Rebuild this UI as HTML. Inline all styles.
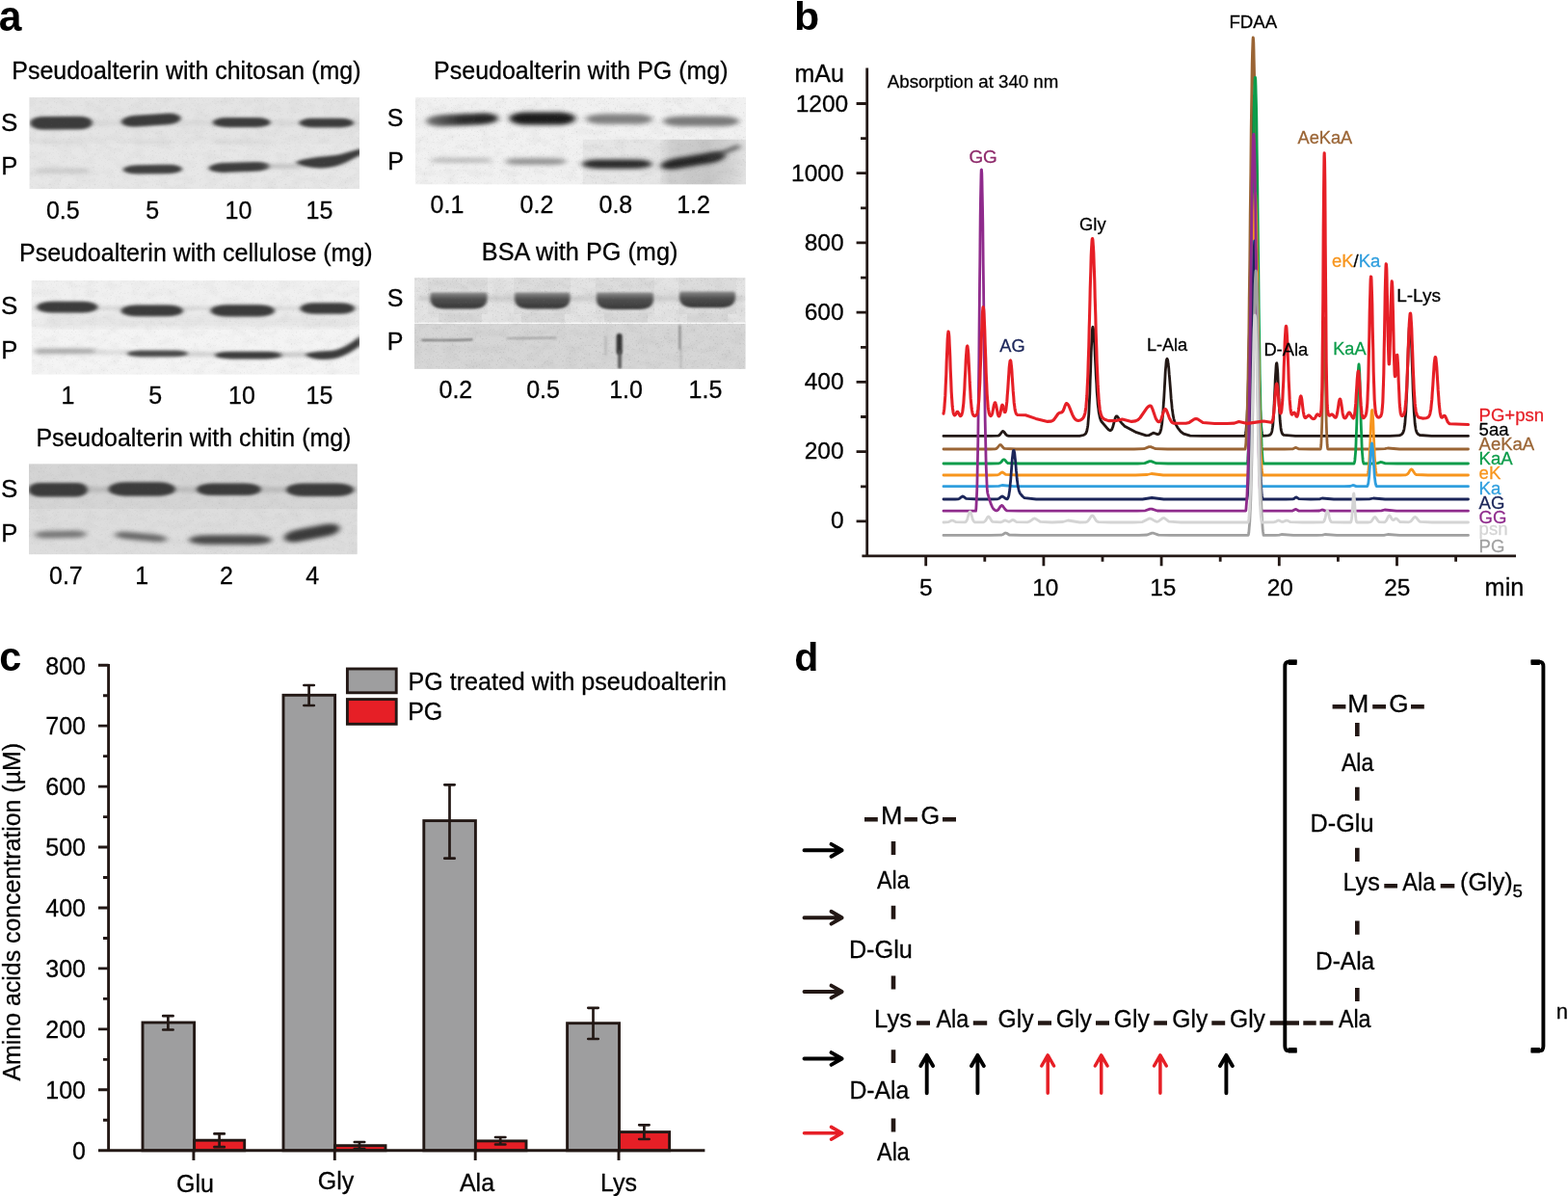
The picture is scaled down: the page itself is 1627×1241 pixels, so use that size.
<!DOCTYPE html>
<html lang="en">
<head>
<meta charset="utf-8">
<title>Figure</title>
<style>
html,body{margin:0;padding:0;background:#fff;}
body{width:1627px;height:1241px;overflow:hidden;}
svg{display:block;font-family:"Liberation Sans",Arial,Helvetica,sans-serif;}
text{stroke-width:0.28px;}
</style>
</head>
<body>
<svg width="1627" height="1241" viewBox="0 0 1627 1241">
<rect width="1627" height="1241" fill="#fff"/>
<defs>
<filter id="b1" filterUnits="userSpaceOnUse" x="0" y="60" width="800" height="560"><feGaussianBlur stdDeviation="2.1 1.5"/></filter>
<filter id="b2" filterUnits="userSpaceOnUse" x="0" y="60" width="800" height="560"><feGaussianBlur stdDeviation="3 1.9"/></filter>
<filter id="b5" filterUnits="userSpaceOnUse" x="0" y="60" width="800" height="560"><feGaussianBlur stdDeviation="1.4 1.1"/></filter>
<filter id="b3" filterUnits="userSpaceOnUse" x="0" y="60" width="800" height="560"><feGaussianBlur stdDeviation="0.9"/></filter>
<filter id="b4" x="-20%" y="-20%" width="140%" height="140%"><feGaussianBlur stdDeviation="6 4"/></filter>
<filter id="nz" x="0" y="0" width="100%" height="100%"><feTurbulence type="fractalNoise" baseFrequency="0.55" numOctaves="2" seed="7" result="n"/><feColorMatrix in="n" type="matrix" values="0 0 0 0 0.2  0 0 0 0 0.2  0 0 0 0 0.2  1.6 0 0 0 -0.95"/></filter>
<filter id="nz2" x="0" y="0" width="100%" height="100%"><feTurbulence type="fractalNoise" baseFrequency="0.08 0.12" numOctaves="2" seed="11" result="n"/><feColorMatrix in="n" type="matrix" values="0 0 0 0 0.35  0 0 0 0 0.35  0 0 0 0 0.35  0.9 0 0 0 -0.38"/></filter>
<linearGradient id="bsa" x1="0" y1="0" x2="0" y2="1"><stop offset="0" stop-color="#8c8c8c"/><stop offset="0.4" stop-color="#505050"/><stop offset="1" stop-color="#363636"/></linearGradient>
<linearGradient id="pg4" x1="0" y1="0" x2="1" y2="0"><stop offset="0" stop-color="#e2e2e2"/><stop offset="0.12" stop-color="#d0d0d0"/><stop offset="0.55" stop-color="#c6c6c6"/><stop offset="0.85" stop-color="#d6d6d6"/><stop offset="1" stop-color="#e4e4e4"/></linearGradient>
<linearGradient id="sfade" x1="0" y1="0" x2="1" y2="0"><stop offset="0" stop-color="#777"/><stop offset="0.5" stop-color="#2a2a2a"/><stop offset="1" stop-color="#262626"/></linearGradient>
</defs>
<text x="-1.2" y="31.6" font-size="44.6" font-weight="bold" style="stroke-width:0" textLength="23.7" lengthAdjust="spacingAndGlyphs" stroke="#000">a</text>
<text x="12.3" y="82.0" font-size="25" textLength="362.2" lengthAdjust="spacingAndGlyphs" stroke="#000">Pseudoalterin with chitosan (mg)</text>
<g id="g1">
<clipPath id="cg1"><rect x="30.6" y="101" width="342.4" height="95"/></clipPath>
<rect x="30.6" y="101" width="342.4" height="95" fill="#e7e7e7"/>
<g clip-path="url(#cg1)">
<rect x="30" y="101" width="344" height="48.30000000000001" fill="#e4e4e4"/>
<rect x="30.6" y="101" width="342.4" height="95" filter="url(#nz2)" opacity="0.22"/>
<path d="M30,127.6 H372" fill="none" stroke="#c4c4c4" stroke-width="3" stroke-linecap="round" stroke-linejoin="round" opacity="0.6" filter="url(#b2)"/>
<g filter="url(#b1)" opacity="1"><rect x="31.2" y="120.80" width="64.6" height="13.6" rx="12.9" ry="6.8" fill="#3b3b3b" transform="rotate(-0.35 63.5 127.6)"/></g>
<g filter="url(#b1)" opacity="1"><rect x="125.8" y="118.75" width="62.0" height="11.6" rx="14.9" ry="5.8" fill="#3b3b3b" transform="rotate(-3.78 156.8 124.5)"/></g>
<g filter="url(#b1)" opacity="1"><rect x="220.8" y="121.90" width="59.8" height="10.2" rx="14.4" ry="5.1" fill="#3b3b3b"/></g>
<g filter="url(#b1)" opacity="1"><rect x="310.5" y="122.80" width="56.5" height="9.4" rx="13.6" ry="4.7" fill="#3b3b3b"/></g>
<path d="M40,177.3 H90" fill="none" stroke="#c4c4c4" stroke-width="5" stroke-linecap="round" stroke-linejoin="round" opacity="0.9" filter="url(#b2)"/>
<g filter="url(#b1)" opacity="1"><rect x="127.8" y="171.00" width="61.2" height="9.4" rx="14.7" ry="4.7" fill="#404040" transform="rotate(-0.56 158.4 175.7)"/></g>
<g filter="url(#b1)" opacity="1"><rect x="216.5" y="168.55" width="63.3" height="9.8" rx="15.2" ry="4.9" fill="#3e3e3e" transform="rotate(-1.90 248.2 173.4)"/></g>
<path d="M276,172.5 H312" fill="none" stroke="#999" stroke-width="3" stroke-linecap="round" stroke-linejoin="round" opacity="0.7" filter="url(#b2)"/>
<path d="M306.5,168.6 C315,163 340,162.4 352,160.4 L375,154 L375,160.4 C366,164.4 358,169.6 350,172 C338,175.8 318,175.6 306.5,168.6 Z" fill="#3b3b3b" opacity="1" filter="url(#b1)"/>
<path d="M42,147.5 H88 M140,147.5 H178 M225,147.5 H280" fill="none" stroke="#d2d2d2" stroke-width="3" stroke-linecap="round" stroke-linejoin="round" opacity="0.8" filter="url(#b2)"/>
<rect x="30.6" y="101" width="342.4" height="95" filter="url(#nz)" opacity="0.25"/>
</g></g>
<text x="0.9" y="135.5" font-size="26" stroke="#000">S</text>
<text x="1.2" y="180.5" font-size="25.6" stroke="#000">P</text>
<text x="65.3" y="227.4" font-size="25" text-anchor="middle" stroke="#000">0.5</text>
<text x="158.3" y="227.4" font-size="25" text-anchor="middle" stroke="#000">5</text>
<text x="247.5" y="227.4" font-size="25" text-anchor="middle" stroke="#000">10</text>
<text x="331.5" y="227.4" font-size="25" text-anchor="middle" stroke="#000">15</text>
<text x="20.0" y="271.4" font-size="25" textLength="366.6" lengthAdjust="spacingAndGlyphs" stroke="#000">Pseudoalterin with cellulose (mg)</text>
<g id="g2">
<clipPath id="cg2"><rect x="32.8" y="291" width="340.2" height="97.60000000000002"/></clipPath>
<rect x="32.8" y="291" width="340.2" height="97.60000000000002" fill="#f4f4f4"/>
<g clip-path="url(#cg2)">
<rect x="32" y="291" width="342" height="47.80000000000001" fill="#f0f0f0"/>
<rect x="44" y="327" width="326" height="11.800000000000011" fill="#e2e2e2" filter="url(#b4)" opacity="0.9"/>
<rect x="32.8" y="291" width="340.2" height="97.60000000000002" filter="url(#nz2)" opacity="0.22"/>
<path d="M36,320 H372" fill="none" stroke="#bbb" stroke-width="3.5" stroke-linecap="round" stroke-linejoin="round" opacity="0.6" filter="url(#b2)"/>
<g filter="url(#b1)" opacity="1"><rect x="38.0" y="312.80" width="63.5" height="11.6" rx="15.2" ry="5.8" fill="#3b3b3b"/></g>
<g filter="url(#b1)" opacity="1"><rect x="125.6" y="316.60" width="64.4" height="11.6" rx="15.5" ry="5.8" fill="#3b3b3b"/></g>
<g filter="url(#b1)" opacity="1"><rect x="218.5" y="316.30" width="66.5" height="12.2" rx="16.0" ry="6.1" fill="#3b3b3b"/></g>
<g filter="url(#b1)" opacity="1"><rect x="311.5" y="314.30" width="56.5" height="11.4" rx="13.6" ry="5.7" fill="#3b3b3b"/></g>
<path d="M38,364.4 H97" fill="none" stroke="#8a8a8a" stroke-width="4.2" stroke-linecap="round" stroke-linejoin="round" opacity="0.9" filter="url(#b2)"/>
<path d="M100,365.5 H135" fill="none" stroke="#bbb" stroke-width="2.5" stroke-linecap="round" stroke-linejoin="round" opacity="0.8" filter="url(#b2)"/>
<g filter="url(#b1)" opacity="1"><rect x="132.0" y="363.50" width="63.5" height="6.8" rx="15.2" ry="3.4" fill="#4a4a4a"/></g>
<path d="M194,367.5 H225" fill="none" stroke="#aaa" stroke-width="3" stroke-linecap="round" stroke-linejoin="round" opacity="0.8" filter="url(#b2)"/>
<g filter="url(#b1)" opacity="1"><rect x="223.0" y="364.70" width="70.0" height="7.8" rx="16.8" ry="3.9" fill="#3a3a3a"/></g>
<path d="M290,368 H318" fill="none" stroke="#999" stroke-width="3" stroke-linecap="round" stroke-linejoin="round" opacity="0.8" filter="url(#b2)"/>
<path d="M316.5,368 C320,364.6 335,364.8 345,363.8 C355,362.3 365,355.8 374.5,348 L374.5,358 C366,364.5 356,370.8 346,372.3 C336,373.8 322,373.2 316.5,368 Z" fill="#3b3b3b" opacity="1" filter="url(#b1)"/>
<rect x="32.8" y="291" width="340.2" height="97.60000000000002" filter="url(#nz)" opacity="0.25"/>
</g></g>
<text x="0.9" y="326.4" font-size="26" stroke="#000">S</text>
<text x="1.2" y="371.5" font-size="25.6" stroke="#000">P</text>
<text x="70.5" y="419.4" font-size="25" text-anchor="middle" stroke="#000">1</text>
<text x="161.2" y="419.4" font-size="25" text-anchor="middle" stroke="#000">5</text>
<text x="251.0" y="419.4" font-size="25" text-anchor="middle" stroke="#000">10</text>
<text x="331.5" y="419.4" font-size="25" text-anchor="middle" stroke="#000">15</text>
<text x="37.4" y="462.6" font-size="25" textLength="327.0" lengthAdjust="spacingAndGlyphs" stroke="#000">Pseudoalterin with chitin (mg)</text>
<g id="g3">
<clipPath id="cg3"><rect x="30" y="481.6" width="340.7" height="93.60000000000002"/></clipPath>
<rect x="30" y="481.6" width="340.7" height="93.60000000000002" fill="#dddddd"/>
<g clip-path="url(#cg3)">
<rect x="30" y="481" width="341" height="47.10000000000002" fill="#d5d5d5"/>
<rect x="30" y="481.6" width="340.7" height="93.60000000000002" filter="url(#nz2)" opacity="0.22"/>
<path d="M30,508 H370" fill="none" stroke="#999" stroke-width="4" stroke-linecap="round" stroke-linejoin="round" opacity="0.6" filter="url(#b2)"/>
<g filter="url(#b1)" opacity="1"><rect x="29.5" y="501.00" width="61.5" height="14.4" rx="11.1" ry="7.2" fill="#3a3a3a"/></g>
<g filter="url(#b1)" opacity="1"><rect x="112.5" y="500.30" width="69.5" height="14.4" rx="16.7" ry="7.2" fill="#3a3a3a"/></g>
<g filter="url(#b1)" opacity="1"><rect x="204.0" y="501.50" width="66.8" height="12.6" rx="16.0" ry="6.3" fill="#3a3a3a"/></g>
<g filter="url(#b1)" opacity="1"><rect x="297.0" y="501.50" width="70.0" height="13.4" rx="16.8" ry="6.7" fill="#3a3a3a"/></g>
<g filter="url(#b2)" opacity="0.95"><rect x="36.0" y="550.80" width="54.0" height="7.4" rx="13.0" ry="3.7" fill="#727272" transform="rotate(-1.06 63.0 554.5)"/></g>
<g filter="url(#b2)" opacity="0.95"><rect x="119.0" y="553.30" width="54.5" height="7.4" rx="13.1" ry="3.7" fill="#626262" transform="rotate(5.24 146.2 557.0)"/></g>
<g filter="url(#b2)" opacity="1"><rect x="196.0" y="555.30" width="86.0" height="9.8" rx="20.6" ry="4.9" fill="#484848"/></g>
<g filter="url(#b2)" opacity="1"><rect x="294.5" y="546.80" width="58.5" height="12.4" rx="14.0" ry="6.2" fill="#3a3a3a" transform="rotate(-10.65 323.8 553.0)"/></g>
<rect x="30" y="481.6" width="340.7" height="93.60000000000002" filter="url(#nz)" opacity="0.25"/>
</g></g>
<text x="0.9" y="516.2" font-size="26" stroke="#000">S</text>
<text x="1.2" y="561.7" font-size="25.6" stroke="#000">P</text>
<text x="68.4" y="605.8" font-size="25" text-anchor="middle" stroke="#000">0.7</text>
<text x="147.2" y="605.8" font-size="25" text-anchor="middle" stroke="#000">1</text>
<text x="234.9" y="605.8" font-size="25" text-anchor="middle" stroke="#000">2</text>
<text x="324.2" y="605.8" font-size="25" text-anchor="middle" stroke="#000">4</text>
<text x="450.1" y="82.3" font-size="25" textLength="305.5" lengthAdjust="spacingAndGlyphs" stroke="#000">Pseudoalterin with PG (mg)</text>
<g id="g4">
<clipPath id="cg4"><rect x="431" y="101" width="343" height="90.30000000000001"/></clipPath>
<rect x="431" y="101" width="343" height="90.30000000000001" fill="#f1f1f1"/>
<g clip-path="url(#cg4)">
<rect x="604.8" y="144.8" width="79.60000000000002" height="47.19999999999999" fill="#e6e6e6"/>
<rect x="684.4" y="144.8" width="90.60000000000002" height="47.19999999999999" fill="url(#pg4)"/>
<rect x="431" y="101" width="343" height="90.30000000000001" filter="url(#nz2)" opacity="0.25"/>
<g filter="url(#b2)" opacity="1"><rect x="442.0" y="118.20" width="75.0" height="12" rx="18.0" ry="6.0" fill="url(#sfade)" transform="rotate(-2.44 479.5 124.2)"/></g>
<g filter="url(#b2)" opacity="1"><rect x="528.6" y="116.40" width="68.4" height="13" rx="16.4" ry="6.5" fill="#1c1c1c"/></g>
<g filter="url(#b2)" opacity="0.95"><rect x="608.0" y="118.35" width="69.0" height="10.5" rx="16.6" ry="5.25" fill="#7a7a7a"/></g>
<g filter="url(#b2)" opacity="0.95"><rect x="688.0" y="120.45" width="79.0" height="10.5" rx="19.0" ry="5.25" fill="#747474"/></g>
<g filter="url(#b2)" opacity="0.9"><rect x="446.0" y="163.70" width="65.0" height="5.2" rx="15.6" ry="2.6" fill="#b6b6b6"/></g>
<g filter="url(#b2)" opacity="0.9"><rect x="524.0" y="164.30" width="64.0" height="6.6" rx="15.4" ry="3.3" fill="#8a8a8a"/></g>
<g filter="url(#b2)" opacity="1"><rect x="604.0" y="165.40" width="72.5" height="9.6" rx="17.4" ry="4.8" fill="#2a2a2a"/></g>
<g filter="url(#b2)" opacity="1"><rect x="685.0" y="161.25" width="68.0" height="11" rx="16.3" ry="5.5" fill="#262626" transform="rotate(-9.60 719.0 166.8)"/></g>
<path d="M735,164 Q752,158 766,152" fill="none" stroke="#3c3c3c" stroke-width="3.5" stroke-linecap="round" stroke-linejoin="round" opacity="1" filter="url(#b2)"/>
<rect x="431" y="101" width="343" height="90.30000000000001" filter="url(#nz)" opacity="0.35"/>
</g></g>
<text x="401.8" y="131.0" font-size="25" stroke="#000">S</text>
<text x="402.2" y="176.0" font-size="25" stroke="#000">P</text>
<text x="464.0" y="221.4" font-size="25" text-anchor="middle" stroke="#000">0.1</text>
<text x="557.0" y="221.4" font-size="25" text-anchor="middle" stroke="#000">0.2</text>
<text x="638.9" y="221.4" font-size="25" text-anchor="middle" stroke="#000">0.8</text>
<text x="719.6" y="221.4" font-size="25" text-anchor="middle" stroke="#000">1.2</text>
<text x="499.8" y="269.9" font-size="25" textLength="203.6" lengthAdjust="spacingAndGlyphs" stroke="#000">BSA with PG (mg)</text>
<g id="g5">
<clipPath id="cg5"><rect x="430" y="288.2" width="343.4" height="94.5"/></clipPath>
<rect x="430" y="288.2" width="343.4" height="94.5" fill="#e3e3e3"/>
<g clip-path="url(#cg5)">
<rect x="444" y="288" width="62" height="38" fill="#dcdcdc"/>
<rect x="533" y="288" width="59" height="38" fill="#dcdcdc"/>
<rect x="618" y="288" width="61" height="38" fill="#dcdcdc"/>
<rect x="704" y="288" width="60" height="38" fill="#dcdcdc"/>
<rect x="455" y="325" width="45" height="10" fill="#d8d8d8"/>
<rect x="541" y="325" width="45" height="10" fill="#d8d8d8"/>
<rect x="627" y="325" width="45" height="10" fill="#d8d8d8"/>
<rect x="713" y="325" width="42" height="10" fill="#d8d8d8"/>
<rect x="430" y="334.6" width="344" height="1.3999999999999773" fill="#fafafa"/>
<rect x="430" y="336" width="344" height="47" fill="#d6d6d6"/>
<rect x="430" y="288.2" width="343.4" height="94.5" filter="url(#nz2)" opacity="0.35"/>
<path d="M436,309.5 H770" fill="none" stroke="#aaa" stroke-width="3" stroke-linecap="round" stroke-linejoin="round" opacity="0.7" filter="url(#b2)"/>
<path d="M448.5,303.5 H503.5 Q505.5,303.5 505.5,306.5 V309.6 Q505.5,320.6 490.5,320.6 H461.5 Q446.5,320.6 446.5,309.6 V306.5 Q446.5,303.5 448.5,303.5 Z" fill="url(#bsa)" opacity="1" filter="url(#b5)"/>
<path d="M536,303.5 H589.5 Q591.5,303.5 591.5,306.5 V309.6 Q591.5,320.6 576.5,320.6 H549 Q534,320.6 534,309.6 V306.5 Q534,303.5 536,303.5 Z" fill="url(#bsa)" opacity="1" filter="url(#b5)"/>
<path d="M621,303.5 H676 Q678,303.5 678,306.5 V310 Q678,321 663,321 H634 Q619,321 619,310 V306.5 Q619,303.5 621,303.5 Z" fill="url(#bsa)" opacity="1" filter="url(#b5)"/>
<path d="M707,302.5 H761 Q763,302.5 763,305.5 V308.2 Q763,319.2 748,319.2 H720 Q705,319.2 705,308.2 V305.5 Q705,302.5 707,302.5 Z" fill="url(#bsa)" opacity="1" filter="url(#b5)"/>
<path d="M438,352.9 Q470,353.2 490,352.4" fill="none" stroke="#5a5a5a" stroke-width="1.6" stroke-linecap="round" stroke-linejoin="round" opacity="0.95" filter="url(#b3)"/>
<path d="M526,351.2 Q555,350.6 577,350.5" fill="none" stroke="#888" stroke-width="1.3" stroke-linecap="round" stroke-linejoin="round" opacity="0.9" filter="url(#b3)"/>
<path d="M642.6,349 V365" fill="none" stroke="#2a2a2a" stroke-width="6" stroke-linecap="round" stroke-linejoin="round" opacity="0.95" filter="url(#b3)"/>
<path d="M643,365 V381" fill="none" stroke="#555" stroke-width="4" stroke-linecap="round" stroke-linejoin="round" opacity="0.9" filter="url(#b3)"/>
<path d="M628.5,350 V368" fill="none" stroke="#aaa" stroke-width="2" stroke-linecap="round" stroke-linejoin="round" opacity="0.8" filter="url(#b3)"/>
<path d="M705.4,338 V362" fill="none" stroke="#777" stroke-width="2" stroke-linecap="round" stroke-linejoin="round" opacity="0.9" filter="url(#b3)"/>
<path d="M706.5,362 V382" fill="none" stroke="#aaa" stroke-width="1.5" stroke-linecap="round" stroke-linejoin="round" opacity="0.9" filter="url(#b3)"/>
<rect x="430" y="288.2" width="343.4" height="94.5" filter="url(#nz)" opacity="0.5"/>
</g></g>
<text x="401.8" y="318.0" font-size="25" stroke="#000">S</text>
<text x="401.8" y="363.0" font-size="25" stroke="#000">P</text>
<text x="472.9" y="413.0" font-size="25" text-anchor="middle" stroke="#000">0.2</text>
<text x="563.6" y="413.0" font-size="25" text-anchor="middle" stroke="#000">0.5</text>
<text x="649.6" y="413.0" font-size="25" text-anchor="middle" stroke="#000">1.0</text>
<text x="732.0" y="413.0" font-size="25" text-anchor="middle" stroke="#000">1.5</text>
<text x="823.9" y="31.0" font-size="41" font-weight="bold" style="stroke-width:0" textLength="26.2" lengthAdjust="spacingAndGlyphs" stroke="#000">b</text>
<path d="M979.0,452.4 991.2,452.4 1003.5,452.4 1015.8,452.4 1028.0,452.4 1035.5,452.2 1036.5,451.9 1037.2,451.3 1039.8,448.0 1040.2,447.6 1040.8,447.5 1041.2,447.7 1041.8,448.1 1043.8,450.9 1044.8,451.8 1046.8,452.3 1059.0,452.4 1071.2,452.4 1083.5,452.4 1095.8,452.4 1108.0,452.4 1120.2,452.3 1124.2,451.5 1125.8,450.6 1126.5,449.9 1127.0,449.1 1127.2,448.5 1127.5,447.9 1127.8,447.1 1128.0,446.1 1128.2,444.8 1128.5,443.3 1128.8,441.4 1129.0,439.2 1129.2,436.5 1129.5,433.2 1129.8,429.5 1130.0,425.2 1130.2,420.2 1130.5,414.7 1130.8,408.6 1131.0,402.0 1131.2,395.1 1131.5,387.8 1132.0,373.0 1132.2,365.9 1132.5,359.3 1132.8,353.3 1133.0,348.2 1133.2,344.1 1133.5,341.2 1133.8,339.6 1134.0,339.3 1134.2,339.8 1134.5,341.2 1134.8,343.4 1135.0,346.2 1135.2,349.7 1135.5,353.7 1135.8,358.2 1136.0,363.0 1136.2,368.1 1137.0,383.8 1137.2,388.9 1137.5,393.9 1137.8,398.5 1138.0,402.9 1138.2,407.0 1138.5,410.7 1138.8,414.1 1139.0,417.2 1139.2,419.9 1139.5,422.3 1139.8,424.4 1140.0,426.3 1140.2,428.0 1140.5,429.5 1140.8,430.8 1141.0,432.0 1141.2,433.1 1141.5,434.0 1141.8,434.8 1142.2,436.1 1143.0,437.5 1149.5,445.1 1151.0,446.3 1151.8,446.6 1152.2,446.7 1152.8,446.5 1153.2,446.0 1153.8,445.3 1154.2,444.2 1154.8,442.8 1155.2,441.1 1156.8,435.3 1157.2,433.7 1157.5,433.0 1157.8,432.5 1158.0,432.1 1158.2,431.9 1158.5,431.8 1159.0,431.9 1159.5,432.3 1160.2,433.3 1162.5,437.3 1163.8,438.9 1165.8,440.9 1167.0,442.3 1179.2,448.7 1189.2,451.8 1192.0,451.7 1196.2,449.4 1197.2,449.2 1201.0,450.6 1202.0,450.5 1202.8,450.1 1203.2,449.5 1203.8,448.6 1204.0,448.1 1204.2,447.3 1204.5,446.5 1204.8,445.4 1205.0,444.2 1205.2,442.7 1205.5,441.0 1205.8,439.0 1206.0,436.7 1206.2,434.1 1206.5,431.2 1206.8,428.0 1207.0,424.5 1207.2,420.6 1207.5,416.6 1207.8,412.3 1208.8,394.3 1209.0,390.1 1209.2,386.1 1209.5,382.5 1209.8,379.3 1210.0,376.6 1210.2,374.6 1210.5,373.2 1210.8,372.5 1211.0,372.3 1211.2,372.5 1211.5,373.2 1211.8,374.3 1212.0,375.9 1212.2,377.8 1212.5,380.0 1212.8,382.5 1213.0,385.3 1213.2,388.2 1213.5,391.3 1214.8,407.6 1215.0,410.7 1215.2,413.7 1215.5,416.6 1215.8,419.2 1216.0,421.7 1216.2,423.9 1216.5,426.0 1216.8,427.9 1217.0,429.6 1217.2,431.1 1217.5,432.4 1217.8,433.7 1218.0,434.8 1218.2,435.7 1218.8,437.4 1219.2,438.8 1220.0,440.4 1222.0,443.8 1225.2,447.8 1228.2,450.2 1235.0,452.2 1247.2,452.4 1259.5,452.4 1271.8,452.4 1284.0,452.4 1292.0,452.4 1292.2,451.3 1292.5,450.0 1292.8,448.3 1293.0,446.2 1293.2,443.7 1293.5,440.7 1293.8,437.2 1294.0,433.0 1294.2,428.0 1294.5,422.3 1294.8,415.7 1295.0,408.2 1295.2,399.6 1295.5,390.0 1295.8,379.3 1296.0,367.5 1296.2,354.6 1296.5,340.7 1296.8,325.7 1297.0,309.9 1297.2,293.2 1297.5,275.9 1297.8,258.2 1298.2,222.3 1298.5,204.6 1298.8,187.4 1299.0,171.0 1299.2,155.8 1299.5,141.9 1299.8,129.6 1300.0,119.3 1300.2,111.0 1300.5,104.9 1300.8,101.2 1301.0,100.0 1301.2,101.2 1301.5,104.9 1301.8,111.0 1302.0,119.3 1302.2,129.6 1302.5,141.9 1302.8,155.8 1303.0,171.0 1303.2,187.4 1303.5,204.6 1303.8,222.3 1304.2,258.2 1304.5,275.9 1304.8,293.2 1305.0,309.9 1305.2,325.7 1305.5,340.7 1305.8,354.6 1306.0,367.5 1306.2,379.3 1306.5,390.0 1306.8,399.6 1307.0,408.2 1307.2,415.7 1307.5,422.3 1307.8,428.0 1308.0,433.0 1308.2,437.2 1308.5,440.7 1308.8,443.7 1309.0,446.2 1309.2,448.3 1309.5,450.0 1309.8,451.3 1310.0,452.4 1316.0,451.9 1317.8,451.2 1318.5,450.5 1319.0,449.7 1319.2,449.2 1319.5,448.5 1319.8,447.6 1320.0,446.4 1320.2,445.0 1320.5,443.2 1320.8,441.0 1321.0,438.4 1321.2,435.2 1321.5,431.5 1321.8,427.3 1322.0,422.5 1322.2,417.4 1322.5,411.8 1323.0,400.4 1323.2,394.8 1323.5,389.7 1323.8,385.1 1324.0,381.4 1324.2,378.7 1324.5,377.1 1324.8,376.7 1325.0,377.6 1325.2,379.6 1325.5,382.8 1325.8,386.9 1326.0,391.7 1326.2,397.0 1327.0,414.1 1327.2,419.5 1327.5,424.5 1327.8,429.0 1328.0,433.1 1328.2,436.5 1328.5,439.5 1328.8,442.0 1329.0,444.0 1329.2,445.6 1329.5,446.9 1329.8,448.0 1330.0,448.8 1330.2,449.4 1330.5,449.9 1331.0,450.6 1332.0,451.4 1344.2,452.4 1356.5,452.4 1368.8,452.4 1381.0,452.4 1393.2,452.4 1405.5,452.4 1417.8,452.4 1430.0,452.4 1442.2,452.4 1451.8,451.9 1454.0,450.9 1455.0,450.1 1455.5,449.4 1456.0,448.5 1456.2,447.8 1456.5,447.1 1456.8,446.1 1457.0,445.0 1457.2,443.6 1457.5,441.8 1457.8,439.8 1458.0,437.3 1458.2,434.4 1458.5,431.0 1458.8,427.0 1459.0,422.5 1459.2,417.4 1459.5,411.8 1459.8,405.6 1460.0,399.0 1460.2,392.0 1460.5,384.7 1461.0,370.0 1461.2,363.0 1461.5,356.3 1461.8,350.3 1462.0,345.0 1462.2,340.8 1462.5,337.6 1462.8,335.7 1463.0,335.0 1463.2,335.7 1463.5,337.6 1463.8,340.8 1464.0,345.0 1464.2,350.3 1464.5,356.3 1464.8,363.0 1465.0,370.0 1465.5,384.7 1465.8,392.0 1466.0,399.0 1466.2,405.6 1466.5,411.8 1466.8,417.4 1467.0,422.5 1467.2,427.0 1467.5,431.0 1467.8,434.4 1468.0,437.3 1468.2,439.8 1468.5,441.8 1468.8,443.6 1469.0,445.0 1469.2,446.1 1469.5,447.1 1469.8,447.8 1470.0,448.5 1470.5,449.4 1471.2,450.3 1473.2,451.5 1485.5,452.4 1497.8,452.4 1510.0,452.4 1522.2,452.4 1523.5,452.4" fill="none" stroke="#231815" stroke-width="2.8" stroke-linejoin="round" stroke-linecap="round"/>
<path d="M979.0,466.0 991.2,466.0 1003.5,466.0 1015.8,466.0 1028.0,466.0 1033.0,465.8 1034.0,465.4 1035.0,464.5 1037.0,462.0 1037.5,461.6 1038.0,461.5 1038.5,461.6 1039.2,462.3 1041.0,464.5 1042.0,465.4 1054.2,466.0 1066.5,466.0 1078.8,466.0 1091.0,466.0 1103.2,466.0 1115.5,466.0 1127.8,466.0 1140.0,466.0 1152.2,466.0 1164.5,466.0 1176.8,466.0 1187.0,465.7 1192.2,463.6 1194.0,463.6 1199.2,465.7 1211.5,466.0 1223.8,466.0 1236.0,466.0 1248.2,466.0 1260.5,466.0 1272.8,466.0 1285.0,466.0 1292.0,466.0 1292.2,465.3 1292.5,462.8 1292.8,459.8 1293.0,456.2 1293.2,451.8 1293.5,446.7 1293.8,440.5 1294.0,433.4 1294.2,425.1 1294.5,415.6 1294.8,404.7 1295.0,392.5 1295.2,378.9 1295.5,363.8 1295.8,347.3 1296.0,329.4 1296.2,310.2 1296.5,289.8 1296.8,268.5 1297.0,246.4 1297.2,223.9 1297.5,201.1 1297.8,178.4 1298.0,156.3 1298.2,135.1 1298.5,115.1 1298.8,96.7 1299.0,80.4 1299.2,66.4 1299.5,55.0 1299.8,46.5 1300.0,41.0 1300.2,38.8 1300.5,39.7 1300.8,43.9 1301.0,51.2 1301.2,61.5 1301.5,74.5 1301.8,89.9 1302.0,107.5 1302.2,126.9 1302.5,147.7 1302.8,169.5 1303.0,192.0 1303.5,237.4 1303.8,259.8 1304.0,281.4 1304.2,302.2 1304.5,321.8 1304.8,340.3 1305.0,357.3 1305.2,373.0 1305.5,387.2 1305.8,400.0 1306.0,411.4 1306.2,421.4 1306.5,430.2 1306.8,437.8 1307.0,444.3 1307.2,449.9 1307.5,454.6 1307.8,458.5 1308.0,461.7 1308.2,464.4 1308.5,466.0 1320.8,466.0 1333.0,466.0 1341.2,465.9 1344.0,464.6 1344.8,464.5 1347.5,465.8 1359.8,466.0 1370.0,466.0 1370.2,465.9 1370.5,464.4 1370.8,462.0 1371.0,458.4 1371.2,453.3 1371.5,446.3 1371.8,437.2 1372.0,425.8 1372.2,412.3 1372.5,397.1 1372.8,381.1 1373.0,365.4 1373.2,351.2 1373.5,339.8 1373.8,332.5 1374.0,330.0 1374.2,332.5 1374.5,339.8 1374.8,351.2 1375.0,365.4 1375.2,381.1 1375.5,397.1 1375.8,412.3 1376.0,425.8 1376.2,437.2 1376.5,446.3 1376.8,453.3 1377.0,458.4 1377.2,462.0 1377.5,464.4 1377.8,465.9 1378.0,466.0 1390.2,466.0 1402.5,466.0 1414.8,466.0 1427.0,466.0 1437.0,465.7 1440.0,465.0 1452.2,466.0 1464.5,466.0 1476.8,466.0 1489.0,466.0 1501.2,466.0 1513.5,466.0 1523.5,466.0" fill="none" stroke="#9a6434" stroke-width="2.8" stroke-linejoin="round" stroke-linecap="round"/>
<path d="M979.0,481.0 991.2,481.0 1003.5,481.0 1015.8,481.0 1028.0,481.0 1036.5,480.8 1037.8,480.3 1038.8,479.5 1040.5,477.4 1041.0,477.0 1041.5,476.8 1042.0,476.9 1042.8,477.4 1044.8,479.8 1045.8,480.5 1058.0,481.0 1070.2,481.0 1082.5,481.0 1094.8,481.0 1107.0,481.0 1119.2,481.0 1131.5,481.0 1143.8,481.0 1156.0,481.0 1168.2,481.0 1180.5,481.0 1187.8,480.6 1192.8,478.6 1194.5,478.6 1199.8,480.7 1212.0,481.0 1224.2,481.0 1236.5,481.0 1248.8,481.0 1261.0,481.0 1273.2,481.0 1285.5,481.0 1294.2,481.0 1294.5,479.0 1294.8,476.4 1295.0,473.2 1295.2,469.4 1295.5,464.9 1295.8,459.5 1296.0,453.2 1296.2,445.9 1296.5,437.4 1296.8,427.7 1297.0,416.8 1297.2,404.5 1297.5,390.9 1297.8,375.9 1298.0,359.6 1298.2,342.1 1298.5,323.4 1298.8,303.8 1299.0,283.3 1299.2,262.3 1299.8,219.6 1300.0,198.6 1300.2,178.3 1300.5,159.0 1300.8,141.1 1301.0,125.0 1301.2,110.9 1301.5,99.2 1301.8,90.1 1302.0,83.9 1302.2,80.5 1302.5,80.2 1302.8,83.0 1303.0,88.7 1303.2,97.2 1303.5,108.4 1303.8,122.0 1304.0,137.7 1304.2,155.3 1304.5,174.3 1304.8,194.5 1305.0,215.4 1305.5,258.0 1305.8,279.1 1306.0,299.7 1306.2,319.6 1306.5,338.5 1306.8,356.2 1307.0,372.8 1307.2,388.0 1307.5,401.9 1307.8,414.4 1308.0,425.6 1308.2,435.5 1308.5,444.3 1308.8,451.8 1309.0,458.3 1309.2,463.9 1309.5,468.6 1309.8,472.5 1310.0,475.8 1310.2,478.5 1310.5,480.7 1310.8,481.0 1323.0,481.0 1335.2,481.0 1347.5,481.0 1359.8,481.0 1372.0,481.0 1384.2,481.0 1396.5,481.0 1405.0,481.0 1405.2,480.4 1405.5,479.4 1405.8,478.0 1406.0,476.0 1406.2,473.4 1406.5,470.0 1406.8,465.7 1407.0,460.5 1407.2,454.3 1407.5,447.1 1407.8,439.0 1408.0,430.2 1408.5,411.7 1408.8,402.8 1409.0,394.6 1409.2,387.7 1409.5,382.4 1409.8,379.1 1410.0,378.0 1410.2,379.1 1410.5,382.4 1410.8,387.7 1411.0,394.6 1411.2,402.8 1411.5,411.7 1412.0,430.2 1412.2,439.0 1412.5,447.1 1412.8,454.3 1413.0,460.5 1413.2,465.7 1413.5,470.0 1413.8,473.4 1414.0,476.0 1414.2,478.0 1414.5,479.4 1414.8,480.4 1415.0,481.0 1427.2,481.0 1430.2,480.4 1432.5,479.5 1433.8,479.6 1437.5,480.9 1449.8,481.0 1462.0,481.0 1474.2,481.0 1486.5,481.0 1498.8,481.0 1511.0,481.0 1523.2,481.0 1523.5,481.0" fill="none" stroke="#0c9c4a" stroke-width="2.8" stroke-linejoin="round" stroke-linecap="round"/>
<path d="M979.0,493.0 991.2,493.0 1003.5,493.0 1015.8,493.0 1028.0,493.0 1035.2,492.8 1036.8,492.2 1039.0,490.4 1039.8,490.0 1040.5,490.1 1043.5,492.4 1055.8,493.0 1068.0,493.0 1080.2,493.0 1092.5,493.0 1104.8,493.0 1117.0,493.0 1129.2,493.0 1141.5,493.0 1153.8,493.0 1166.0,493.0 1178.2,493.0 1190.5,492.5 1194.8,491.5 1207.0,493.0 1219.2,493.0 1231.5,493.0 1243.8,493.0 1256.0,493.0 1268.2,493.0 1280.5,493.0 1292.8,493.0 1294.5,493.0 1294.8,492.6 1295.0,490.9 1295.2,488.7 1295.5,486.0 1295.8,482.8 1296.0,478.9 1296.2,474.3 1296.5,468.9 1296.8,462.6 1297.0,455.4 1297.2,447.1 1297.5,437.8 1297.8,427.3 1298.0,415.8 1298.2,403.2 1298.5,389.5 1298.8,375.0 1299.0,359.7 1299.2,343.8 1299.5,327.5 1299.8,311.0 1300.0,294.7 1300.2,278.7 1300.5,263.5 1300.8,249.2 1301.0,236.3 1301.2,225.0 1301.5,215.6 1301.8,208.2 1302.0,203.1 1302.2,200.4 1302.5,200.2 1302.8,202.4 1303.0,207.0 1303.2,213.9 1303.5,223.0 1303.8,233.9 1304.0,246.5 1304.2,260.5 1304.5,275.6 1304.8,291.4 1305.0,307.7 1305.2,324.2 1305.5,340.5 1305.8,356.6 1306.0,372.0 1306.2,386.7 1306.5,400.5 1306.8,413.3 1307.0,425.1 1307.2,435.8 1307.5,445.3 1307.8,453.8 1308.0,461.3 1308.2,467.8 1308.5,473.3 1308.8,478.1 1309.0,482.1 1309.2,485.4 1309.5,488.2 1309.8,490.5 1310.0,492.3 1310.2,493.0 1322.5,493.0 1334.8,493.0 1347.0,493.0 1359.2,493.0 1371.5,493.0 1383.8,493.0 1396.0,493.0 1408.2,493.0 1418.8,493.0 1419.0,492.5 1419.2,491.8 1419.5,490.8 1419.8,489.4 1420.0,487.6 1420.2,485.3 1420.5,482.4 1420.8,478.8 1421.0,474.6 1421.2,469.8 1421.5,464.4 1421.8,458.5 1422.2,446.4 1422.5,440.6 1422.8,435.4 1423.0,431.1 1423.2,427.9 1423.5,426.0 1423.8,425.5 1424.0,426.6 1424.2,429.0 1424.5,432.7 1424.8,437.4 1425.0,442.9 1425.2,448.8 1425.8,460.9 1426.0,466.6 1426.2,471.8 1426.5,476.4 1426.8,480.3 1427.0,483.6 1427.2,486.3 1427.5,488.4 1427.8,490.0 1428.0,491.2 1428.2,492.1 1428.5,492.7 1428.8,493.0 1441.0,493.0 1453.2,493.0 1458.8,492.8 1460.0,492.3 1460.8,491.6 1461.8,490.3 1463.2,487.9 1463.8,487.3 1464.2,487.0 1464.8,487.0 1465.2,487.3 1466.0,488.2 1467.8,491.0 1468.5,491.9 1469.5,492.5 1481.8,493.0 1494.0,493.0 1506.2,493.0 1518.5,493.0 1523.5,493.0" fill="none" stroke="#f7951d" stroke-width="2.8" stroke-linejoin="round" stroke-linecap="round"/>
<path d="M979.0,504.7 991.2,504.7 1003.5,504.7 1015.8,504.7 1028.0,504.7 1036.5,504.4 1039.8,503.5 1052.0,504.7 1064.2,504.7 1076.5,504.7 1088.8,504.7 1101.0,504.7 1113.2,504.7 1125.5,504.7 1137.8,504.7 1150.0,504.7 1162.2,504.7 1174.5,504.7 1186.8,504.7 1199.0,504.7 1211.2,504.7 1223.5,504.7 1235.8,504.7 1248.0,504.7 1260.2,504.7 1272.5,504.7 1284.8,504.7 1294.0,504.7 1294.2,503.4 1294.5,501.6 1294.8,499.4 1295.0,496.7 1295.2,493.4 1295.5,489.6 1295.8,484.9 1296.0,479.6 1296.2,473.3 1296.5,466.2 1296.8,458.0 1297.0,448.9 1297.2,438.8 1297.5,427.8 1297.8,415.8 1298.0,403.0 1298.2,389.5 1298.5,375.4 1298.8,361.0 1299.0,346.4 1299.2,331.9 1299.5,317.8 1299.8,304.4 1300.0,291.8 1300.2,280.5 1300.5,270.7 1300.8,262.6 1301.0,256.3 1301.2,252.2 1301.5,250.2 1301.8,250.4 1302.0,252.8 1302.2,257.4 1302.5,264.0 1302.8,272.5 1303.0,282.7 1303.2,294.3 1303.5,307.0 1303.8,320.6 1304.0,334.8 1304.5,363.9 1304.8,378.3 1305.0,392.2 1305.2,405.6 1305.5,418.3 1305.8,430.1 1306.0,440.9 1306.2,450.8 1306.5,459.7 1306.8,467.7 1307.0,474.6 1307.2,480.7 1307.5,485.9 1307.8,490.4 1308.0,494.1 1308.2,497.3 1308.5,499.9 1308.8,502.0 1309.0,503.7 1309.2,504.7 1321.5,504.7 1333.8,504.7 1346.0,504.7 1358.2,504.7 1370.5,504.7 1382.8,504.7 1395.0,504.7 1401.0,504.5 1403.8,503.5 1404.8,503.6 1407.2,504.6 1418.5,504.7 1418.8,504.5 1419.0,504.0 1419.2,503.4 1419.5,502.5 1419.8,501.4 1420.0,499.9 1420.2,498.1 1420.5,495.8 1420.8,493.1 1421.0,490.0 1421.2,486.5 1421.5,482.7 1422.0,474.6 1422.2,470.7 1422.5,467.2 1422.8,464.2 1423.0,461.9 1423.2,460.5 1423.5,460.0 1423.8,460.5 1424.0,461.9 1424.2,464.2 1424.5,467.2 1424.8,470.7 1425.0,474.6 1425.5,482.7 1425.8,486.5 1426.0,490.0 1426.2,493.1 1426.5,495.8 1426.8,498.1 1427.0,499.9 1427.2,501.4 1427.5,502.5 1427.8,503.4 1428.0,504.0 1428.2,504.5 1428.5,504.7 1440.8,504.7 1453.0,504.7 1465.2,504.7 1477.5,504.7 1489.8,504.7 1502.0,504.7 1514.2,504.7 1523.5,504.7" fill="none" stroke="#2f9ede" stroke-width="2.8" stroke-linejoin="round" stroke-linecap="round"/>
<path d="M979.0,518.0 991.2,518.0 994.5,517.8 995.8,517.2 998.0,515.4 998.8,515.0 999.5,515.1 1002.5,517.4 1014.8,518.0 1027.0,518.0 1035.2,517.8 1036.8,517.2 1039.0,515.4 1039.8,515.0 1040.5,515.1 1043.5,517.4 1045.0,517.9 1045.2,517.8 1045.5,517.5 1045.8,517.1 1046.0,516.6 1046.2,516.0 1046.5,515.2 1046.8,514.2 1047.0,512.9 1047.2,511.5 1047.5,509.7 1047.8,507.8 1048.0,505.5 1048.2,502.9 1048.5,500.2 1048.8,497.1 1049.0,493.9 1049.8,483.8 1050.0,480.6 1050.2,477.5 1050.5,474.7 1050.8,472.2 1051.0,470.2 1051.2,468.7 1051.5,467.7 1051.8,467.3 1052.0,467.3 1052.2,467.9 1052.5,468.9 1052.8,470.4 1053.0,472.4 1053.2,474.6 1053.5,477.2 1053.8,480.0 1054.5,488.9 1054.8,491.7 1055.0,494.4 1055.2,496.8 1055.5,499.0 1055.8,501.0 1056.0,502.8 1056.2,504.4 1056.5,505.7 1056.8,507.0 1057.0,508.0 1057.2,508.9 1057.8,510.5 1058.0,511.1 1058.2,511.6 1061.0,515.0 1063.0,516.6 1075.2,518.0 1087.5,518.0 1099.8,518.0 1112.0,518.0 1124.2,518.0 1136.5,518.0 1148.8,518.0 1161.0,518.0 1173.2,518.0 1185.5,518.0 1195.2,516.5 1207.5,518.0 1219.8,518.0 1232.0,518.0 1244.2,518.0 1256.5,518.0 1268.8,518.0 1281.0,518.0 1293.2,518.0 1294.0,518.0 1294.2,516.6 1294.5,514.8 1294.8,512.6 1295.0,510.0 1295.2,506.8 1295.5,503.1 1295.8,498.7 1296.0,493.6 1296.2,487.6 1296.5,480.9 1296.8,473.3 1297.0,464.7 1297.2,455.2 1297.5,444.8 1297.8,433.4 1298.0,421.3 1298.2,408.3 1298.5,394.8 1298.8,380.7 1299.0,366.3 1299.5,337.3 1299.8,323.2 1300.0,309.7 1300.2,297.0 1300.5,285.4 1300.8,275.1 1301.0,266.3 1301.2,259.3 1301.5,254.2 1301.8,251.0 1302.0,250.0 1302.2,251.0 1302.5,254.2 1302.8,259.3 1303.0,266.3 1303.2,275.1 1303.5,285.4 1303.8,297.0 1304.0,309.7 1304.2,323.2 1304.5,337.3 1305.0,366.3 1305.2,380.7 1305.5,394.8 1305.8,408.3 1306.0,421.3 1306.2,433.4 1306.5,444.8 1306.8,455.2 1307.0,464.7 1307.2,473.3 1307.5,480.9 1307.8,487.6 1308.0,493.6 1308.2,498.7 1308.5,503.1 1308.8,506.8 1309.0,510.0 1309.2,512.6 1309.5,514.8 1309.8,516.6 1310.0,518.0 1322.2,518.0 1334.5,518.0 1341.5,517.9 1342.8,517.4 1344.2,516.2 1344.8,516.0 1345.2,516.0 1347.8,517.6 1360.0,518.0 1369.2,517.8 1371.8,517.0 1384.0,518.0 1396.2,518.0 1408.5,518.0 1420.8,517.9 1425.0,517.0 1437.2,518.0 1449.5,518.0 1461.8,518.0 1474.0,518.0 1486.2,518.0 1498.5,518.0 1510.8,518.0 1523.0,518.0 1523.5,518.0" fill="none" stroke="#1b2559" stroke-width="2.8" stroke-linejoin="round" stroke-linecap="round"/>
<path d="M979.0,530.2 991.2,530.2 1003.5,530.2 1012.5,530.2 1012.8,528.1 1013.0,524.6 1013.2,520.1 1013.5,514.4 1013.8,507.1 1014.0,498.0 1014.2,487.0 1014.5,473.8 1014.8,458.4 1015.0,440.6 1015.2,420.5 1015.5,398.3 1015.8,374.2 1016.0,348.7 1016.5,296.1 1016.8,270.4 1017.0,246.3 1017.2,224.6 1017.5,206.1 1017.8,191.6 1018.0,181.5 1018.2,176.4 1018.5,176.0 1018.8,179.8 1019.0,187.6 1019.2,199.0 1019.5,213.8 1019.8,231.3 1020.0,251.1 1020.2,272.4 1020.5,294.8 1021.0,340.4 1021.2,362.6 1021.5,383.7 1021.8,403.3 1022.0,421.1 1022.2,437.1 1022.5,451.2 1022.8,463.5 1023.0,474.1 1023.2,483.1 1023.5,490.6 1023.8,496.9 1024.0,502.2 1024.2,506.5 1024.5,510.0 1024.8,511.8 1027.0,519.4 1028.0,522.4 1028.8,524.3 1029.5,525.9 1030.5,527.6 1031.5,528.7 1032.8,529.6 1034.0,529.9 1034.8,529.6 1035.8,528.9 1038.2,525.3 1038.8,524.8 1039.2,524.5 1039.8,524.5 1040.2,524.8 1041.0,525.7 1042.8,528.3 1043.8,529.3 1045.0,529.9 1057.2,530.2 1069.5,530.2 1081.8,530.2 1094.0,530.2 1106.2,530.2 1118.5,530.2 1130.8,530.2 1143.0,530.2 1155.2,530.2 1167.5,530.2 1179.8,530.2 1188.5,529.8 1193.2,528.1 1195.2,528.2 1200.8,530.0 1213.0,530.2 1225.2,530.2 1237.5,530.2 1249.8,530.2 1262.0,530.2 1274.2,530.2 1286.5,530.2 1292.5,530.2 1292.8,529.6 1293.0,527.3 1293.2,524.6 1293.5,521.2 1293.8,517.2 1294.0,512.5 1294.2,506.9 1294.5,500.3 1294.8,492.7 1295.0,484.0 1295.2,474.1 1295.5,462.9 1295.8,450.4 1296.0,436.6 1296.2,421.5 1296.5,405.1 1296.8,387.5 1297.0,368.9 1297.2,349.4 1297.5,329.2 1297.8,308.5 1298.0,287.7 1298.2,266.9 1298.5,246.7 1298.8,227.2 1299.0,208.9 1299.2,192.1 1299.5,177.1 1299.8,164.3 1300.0,153.9 1300.2,146.1 1300.5,141.1 1300.8,139.1 1301.0,139.9 1301.2,143.8 1301.5,150.5 1301.8,159.8 1302.0,171.7 1302.2,185.9 1302.5,202.0 1302.8,219.7 1303.0,238.8 1303.2,258.8 1303.5,279.3 1304.0,321.0 1304.2,341.4 1304.5,361.2 1304.8,380.2 1305.0,398.2 1305.2,415.1 1305.5,430.7 1305.8,445.1 1306.0,458.1 1306.2,469.8 1306.5,480.2 1306.8,489.4 1307.0,497.4 1307.2,504.4 1307.5,510.4 1307.8,515.4 1308.0,519.7 1308.2,523.3 1308.5,526.3 1308.8,528.7 1309.0,530.2 1321.2,530.2 1333.5,530.2 1341.2,530.0 1344.0,528.6 1344.8,528.5 1347.5,530.0 1359.8,530.2 1369.0,530.0 1371.8,529.0 1372.8,529.1 1375.2,530.1 1387.5,530.2 1399.8,530.2 1412.0,530.2 1424.2,530.2 1433.5,529.9 1436.8,529.0 1449.0,530.2 1461.2,530.2 1473.5,530.2 1485.8,530.2 1498.0,530.2 1510.2,530.2 1522.5,530.2 1523.5,530.2" fill="none" stroke="#8f2b8c" stroke-width="2.8" stroke-linejoin="round" stroke-linecap="round"/>
<path d="M979.0,555.4 991.2,555.4 1003.5,555.4 1015.8,555.4 1028.0,555.4 1039.0,555.2 1040.8,554.5 1042.8,553.2 1043.5,553.0 1044.5,553.3 1047.2,555.0 1059.5,555.4 1071.8,555.4 1084.0,555.4 1096.2,555.4 1108.5,555.4 1120.8,555.4 1133.0,555.4 1145.2,555.4 1157.5,555.4 1169.8,555.4 1182.0,555.4 1190.2,555.0 1195.2,553.1 1197.0,553.2 1202.2,555.1 1214.5,555.4 1226.8,555.4 1239.0,555.4 1251.2,555.4 1263.5,555.4 1275.8,555.4 1288.0,555.4 1295.2,555.4 1295.5,554.5 1295.8,552.8 1296.0,550.6 1296.2,548.0 1296.5,544.9 1296.8,541.2 1297.0,536.8 1297.2,531.6 1297.5,525.6 1297.8,518.8 1298.0,511.0 1298.2,502.2 1298.5,492.5 1298.8,481.7 1299.0,470.0 1299.2,457.4 1299.5,444.0 1299.8,429.9 1300.0,415.2 1300.2,400.2 1300.8,370.0 1301.0,355.3 1301.2,341.3 1301.5,328.1 1301.8,316.1 1302.0,305.6 1302.2,296.7 1302.5,289.6 1302.8,284.6 1303.0,281.7 1303.2,281.0 1303.5,282.6 1303.8,286.3 1304.0,292.2 1304.2,300.0 1304.5,309.6 1304.8,320.8 1305.0,333.2 1305.2,346.8 1305.5,361.1 1305.8,376.0 1306.2,406.2 1306.5,421.1 1306.8,435.6 1307.0,449.4 1307.2,462.6 1307.5,474.8 1307.8,486.1 1308.0,496.5 1308.2,505.9 1308.5,514.2 1308.8,521.6 1309.0,528.1 1309.2,533.8 1309.5,538.6 1309.8,542.7 1310.0,546.2 1310.2,549.1 1310.5,551.5 1310.8,553.5 1311.0,555.1 1311.2,555.4 1323.5,555.4 1327.5,555.2 1329.8,554.5 1342.0,555.4 1354.2,555.4 1366.5,555.4 1372.5,555.2 1374.8,554.5 1387.0,555.4 1399.2,555.4 1411.5,555.4 1423.8,555.4 1436.0,555.3 1440.0,554.5 1452.2,555.4 1464.5,555.4 1476.8,555.4 1489.0,555.4 1501.2,555.4 1513.5,555.4 1523.5,555.4" fill="none" stroke="#a0a0a0" stroke-width="2.8" stroke-linejoin="round" stroke-linecap="round"/>
<path d="M979.0,542.0 984.0,541.7 987.5,540.1 988.5,540.1 992.0,541.7 1001.0,541.9 1001.8,541.7 1002.2,541.3 1002.8,540.7 1003.2,539.8 1003.8,538.6 1004.2,537.0 1005.2,533.4 1005.5,532.6 1005.8,531.9 1006.0,531.4 1006.2,531.1 1006.5,531.0 1006.8,531.1 1007.0,531.4 1007.2,531.9 1007.5,532.6 1008.0,534.2 1008.8,537.0 1009.2,538.6 1009.8,539.8 1010.2,540.7 1010.8,541.3 1011.5,541.8 1020.2,541.9 1021.2,541.5 1022.0,540.9 1022.8,540.0 1024.5,537.0 1025.0,536.4 1025.5,536.0 1026.0,536.1 1026.5,536.5 1027.2,537.6 1028.5,539.7 1029.2,540.8 1030.0,541.4 1038.2,541.9 1040.2,541.2 1042.2,540.1 1043.2,540.0 1046.2,541.3 1047.2,541.4 1048.8,540.6 1050.2,539.7 1051.0,539.5 1051.8,539.7 1054.8,541.6 1066.5,541.8 1068.8,540.9 1072.2,538.4 1073.2,538.0 1074.2,538.1 1079.2,541.3 1091.5,542.0 1103.0,541.5 1108.2,540.0 1120.5,542.0 1126.8,541.8 1128.0,541.3 1129.0,540.5 1130.0,539.2 1132.0,536.0 1132.5,535.4 1133.0,535.1 1133.5,535.0 1134.0,535.2 1134.5,535.6 1137.2,539.9 1138.2,540.9 1139.5,541.6 1151.8,542.0 1164.0,542.0 1176.2,542.0 1185.5,541.6 1192.0,538.2 1193.2,538.0 1195.0,538.6 1198.8,540.9 1200.5,541.3 1202.0,541.0 1206.2,537.8 1207.2,537.5 1208.2,537.7 1212.8,541.1 1225.0,542.0 1237.2,542.0 1249.5,542.0 1261.8,542.0 1274.0,542.0 1286.2,542.0 1295.0,542.0 1295.2,541.7 1295.5,540.3 1295.8,538.4 1296.0,536.2 1296.2,533.4 1296.5,530.0 1296.8,525.9 1297.0,521.1 1297.2,515.4 1297.5,508.8 1297.8,501.3 1298.0,492.8 1298.2,483.4 1298.5,473.0 1298.8,461.7 1299.0,449.6 1299.2,437.0 1299.5,423.9 1300.0,397.4 1300.2,384.5 1300.5,372.3 1300.8,361.0 1301.0,350.9 1301.2,342.3 1301.5,335.4 1301.8,330.5 1302.0,327.7 1302.2,327.0 1302.5,328.6 1302.8,332.2 1303.0,337.9 1303.2,345.5 1303.5,354.7 1303.8,365.3 1304.0,377.1 1304.2,389.6 1304.5,402.7 1305.0,429.2 1305.2,442.1 1305.5,454.5 1305.8,466.3 1306.0,477.2 1306.2,487.3 1306.5,496.3 1306.8,504.4 1307.0,511.6 1307.2,517.8 1307.5,523.1 1307.8,527.6 1308.0,531.4 1308.2,534.6 1308.5,537.1 1308.8,539.2 1309.0,540.9 1309.2,542.0 1321.5,541.9 1323.5,541.4 1326.0,540.1 1327.0,540.0 1330.0,541.4 1331.2,541.5 1334.5,540.1 1335.5,540.1 1339.0,541.7 1351.2,542.0 1363.5,542.0 1372.5,541.9 1373.2,541.5 1373.8,541.0 1374.0,540.6 1374.2,540.0 1374.5,539.4 1374.8,538.6 1375.0,537.7 1375.5,535.6 1376.0,533.4 1376.2,532.3 1376.5,531.4 1376.8,530.7 1377.0,530.2 1377.2,530.0 1377.5,530.1 1377.8,530.5 1378.0,531.1 1378.2,531.9 1378.8,534.0 1379.2,536.3 1379.5,537.3 1379.8,538.3 1380.0,539.1 1380.2,539.8 1380.5,540.4 1380.8,540.8 1381.2,541.4 1382.0,541.8 1394.2,542.0 1401.5,542.0 1401.8,541.6 1402.0,541.0 1402.2,539.9 1402.5,538.3 1402.8,536.1 1403.0,533.2 1403.2,529.7 1403.5,525.7 1403.8,521.5 1404.0,517.6 1404.2,514.4 1404.5,512.5 1404.8,512.0 1405.0,513.1 1405.2,515.6 1405.5,519.1 1406.0,527.3 1406.2,531.2 1406.5,534.5 1406.8,537.1 1407.0,539.0 1407.2,540.4 1407.5,541.3 1407.8,541.8 1408.0,542.0 1420.2,542.0 1422.0,541.6 1422.8,541.1 1423.5,540.3 1425.5,537.3 1426.0,536.7 1426.5,536.5 1427.0,536.6 1427.5,537.0 1429.8,540.4 1430.5,541.2 1431.5,541.7 1436.0,541.9 1437.0,541.6 1437.8,541.0 1438.5,540.1 1440.5,536.2 1441.0,535.4 1441.5,535.0 1441.8,535.0 1442.0,535.1 1442.5,535.5 1443.2,536.7 1444.2,538.5 1444.8,539.2 1445.2,539.6 1445.8,539.6 1446.5,539.3 1448.0,538.1 1448.5,538.0 1449.0,538.1 1449.8,538.6 1451.8,540.8 1452.8,541.5 1461.8,541.8 1463.2,541.3 1464.5,540.3 1467.0,537.2 1467.8,536.6 1468.2,536.5 1468.8,536.6 1469.5,537.1 1472.2,540.4 1473.5,541.4 1485.8,542.0 1498.0,542.0 1510.2,542.0 1522.5,542.0 1523.5,542.0" fill="none" stroke="#d4d4d4" stroke-width="2.8" stroke-linejoin="round" stroke-linecap="round"/>
<path d="M979.0,429.2 979.2,427.9 979.5,426.2 979.8,424.2 980.0,421.7 980.2,418.7 980.5,415.1 980.8,410.9 981.0,406.1 981.2,400.7 981.5,394.8 981.8,388.5 982.0,381.9 982.2,375.2 982.5,368.6 982.8,362.3 983.0,356.6 983.2,351.8 983.5,348.0 983.8,345.4 984.0,344.1 984.2,344.2 984.5,345.8 984.8,348.6 985.0,352.6 985.2,357.6 985.5,363.4 985.8,369.7 986.2,382.9 986.5,389.5 986.8,395.7 987.0,401.4 987.2,406.6 987.5,411.3 987.8,415.3 988.0,418.7 988.2,421.5 988.5,423.9 988.8,425.8 989.0,427.3 989.2,428.4 989.5,429.3 989.8,430.0 990.0,430.5 990.2,430.7 990.5,430.9 990.8,430.9 991.0,430.7 991.2,430.5 991.8,429.7 992.8,427.8 993.0,427.4 993.2,427.2 993.5,427.2 993.8,427.3 994.0,427.5 994.5,428.3 995.5,430.4 996.0,431.2 996.2,431.4 996.5,431.6 996.8,431.6 997.0,431.5 997.2,431.3 997.5,431.0 997.8,430.5 998.0,429.9 998.2,429.1 998.5,428.1 998.8,426.9 999.0,425.3 999.2,423.5 999.5,421.2 999.8,418.6 1000.0,415.6 1000.2,412.1 1000.5,408.1 1000.8,403.8 1001.0,399.1 1001.2,394.2 1001.8,383.9 1002.0,378.9 1002.2,374.1 1002.5,369.7 1002.8,365.9 1003.0,362.8 1003.2,360.6 1003.5,359.3 1003.8,359.0 1004.0,359.7 1004.2,361.4 1004.5,364.0 1004.8,367.3 1005.0,371.4 1005.2,375.9 1005.5,380.9 1006.0,391.1 1006.2,396.2 1006.5,401.0 1006.8,405.6 1007.0,409.7 1007.2,413.4 1007.5,416.7 1007.8,419.6 1008.0,422.0 1008.2,424.1 1008.5,425.8 1008.8,427.2 1009.0,428.3 1009.2,429.2 1009.5,429.9 1009.8,430.4 1010.0,430.8 1010.5,431.3 1011.2,431.6 1012.0,431.5 1012.5,431.2 1013.0,430.7 1013.2,430.4 1013.5,429.9 1013.8,429.3 1014.0,428.6 1014.2,427.6 1014.5,426.4 1014.8,425.0 1015.0,423.2 1015.2,421.0 1015.5,418.3 1015.8,415.1 1016.0,411.4 1016.2,407.1 1016.5,402.2 1016.8,396.6 1017.0,390.5 1017.2,383.8 1017.5,376.7 1017.8,369.3 1018.2,354.2 1018.5,346.9 1018.8,340.0 1019.0,333.7 1019.2,328.3 1019.5,324.0 1019.8,320.9 1020.0,319.0 1020.2,318.6 1020.5,319.6 1020.8,322.0 1021.0,325.6 1021.2,330.4 1021.5,336.2 1021.8,342.7 1022.0,349.8 1022.2,357.3 1022.8,372.4 1023.0,379.7 1023.2,386.7 1023.5,393.2 1023.8,399.1 1024.0,404.4 1024.2,409.1 1024.5,413.2 1024.8,416.7 1025.0,419.7 1025.2,422.2 1025.5,424.3 1025.8,426.0 1026.0,427.4 1026.2,428.5 1026.5,429.4 1026.8,430.1 1027.0,430.6 1027.2,431.0 1027.5,431.3 1027.8,431.5 1028.0,431.6 1028.2,431.5 1028.5,431.3 1028.8,431.0 1029.0,430.6 1029.2,430.0 1029.5,429.3 1029.8,428.4 1030.0,427.3 1030.5,424.9 1031.2,421.1 1031.5,419.9 1031.8,419.0 1032.0,418.3 1032.2,417.9 1032.5,417.8 1032.8,417.9 1033.0,418.4 1033.2,419.2 1033.5,420.2 1033.8,421.4 1034.8,426.8 1035.0,428.0 1035.2,429.2 1035.5,430.1 1035.8,430.9 1036.0,431.5 1036.2,431.9 1036.5,432.0 1036.8,432.0 1037.0,431.7 1037.2,431.2 1037.5,430.5 1037.8,429.6 1038.0,428.5 1039.0,423.1 1039.2,422.0 1039.5,421.1 1039.8,420.4 1040.0,420.2 1040.2,420.3 1040.5,420.7 1040.8,421.4 1041.0,422.3 1041.8,425.5 1042.0,426.4 1042.2,427.1 1042.5,427.6 1042.8,427.7 1043.0,427.6 1043.2,427.1 1043.5,426.3 1043.8,425.1 1044.0,423.6 1044.2,421.7 1044.5,419.4 1044.8,416.9 1045.0,413.9 1045.2,410.7 1045.5,407.2 1045.8,403.5 1046.5,391.8 1046.8,388.1 1047.0,384.6 1047.2,381.4 1047.5,378.7 1047.8,376.5 1048.0,375.0 1048.2,374.2 1048.5,374.0 1048.8,374.6 1049.0,375.9 1049.2,377.8 1049.5,380.3 1049.8,383.3 1050.0,386.7 1050.2,390.3 1051.0,401.8 1051.2,405.4 1051.5,408.9 1051.8,412.1 1052.0,415.1 1052.2,417.7 1052.5,420.1 1052.8,422.1 1053.0,423.8 1053.2,425.2 1053.5,426.4 1053.8,427.4 1054.0,428.2 1054.2,428.8 1054.5,429.3 1055.0,430.0 1055.8,430.5 1064.2,430.8 1074.8,434.4 1087.0,437.4 1090.8,437.1 1092.5,436.3 1093.8,435.2 1097.8,429.5 1098.8,428.6 1099.8,428.2 1101.5,427.9 1102.0,427.7 1102.5,427.2 1103.0,426.5 1103.5,425.5 1104.2,423.6 1105.2,420.8 1105.8,419.6 1106.0,419.2 1106.2,418.8 1106.5,418.6 1106.8,418.5 1107.2,418.8 1108.0,419.5 1108.8,420.7 1109.8,422.8 1112.8,430.3 1113.8,432.4 1114.8,434.0 1115.8,435.1 1117.0,436.0 1118.8,436.4 1121.0,436.0 1122.8,434.9 1123.8,433.9 1124.2,433.2 1124.8,432.2 1125.0,431.6 1125.2,430.9 1125.5,430.1 1125.8,429.1 1126.0,427.9 1126.2,426.5 1126.5,424.8 1126.8,422.9 1127.0,420.6 1127.2,417.8 1127.5,414.6 1127.8,411.0 1128.0,406.7 1128.2,401.9 1128.5,396.4 1128.8,390.3 1129.0,383.5 1129.2,376.0 1129.5,367.9 1129.8,359.3 1130.0,350.1 1130.2,340.4 1130.5,330.5 1131.0,310.2 1131.2,300.2 1131.5,290.6 1131.8,281.5 1132.0,273.2 1132.2,265.7 1132.5,259.4 1132.8,254.3 1133.0,250.6 1133.2,248.3 1133.5,247.5 1133.8,248.1 1134.0,250.0 1134.2,253.0 1134.5,257.2 1134.8,262.4 1135.0,268.6 1135.2,275.6 1135.5,283.3 1135.8,291.5 1136.0,300.2 1136.2,309.2 1136.8,327.4 1137.0,336.4 1137.2,345.2 1137.5,353.7 1137.8,361.8 1138.0,369.5 1138.2,376.7 1138.5,383.4 1138.8,389.5 1139.0,395.1 1139.2,400.2 1139.5,404.7 1139.8,408.8 1140.0,412.4 1140.2,415.5 1140.5,418.3 1140.8,420.7 1141.0,422.7 1141.2,424.5 1141.5,426.1 1141.8,427.4 1142.0,428.5 1142.2,429.5 1142.5,430.3 1143.0,431.6 1143.5,432.6 1144.2,433.6 1145.8,435.0 1150.2,436.6 1158.2,436.5 1164.5,435.0 1174.2,437.4 1178.2,436.9 1180.8,435.6 1183.0,433.5 1190.0,423.3 1191.5,421.8 1192.8,421.1 1193.8,421.0 1194.2,421.3 1194.8,421.9 1195.2,422.9 1196.0,424.7 1198.5,432.0 1199.2,433.9 1200.0,435.4 1200.8,436.6 1201.5,437.3 1202.2,437.7 1202.8,437.7 1203.2,437.4 1203.8,437.0 1204.2,436.2 1204.8,435.2 1205.2,433.9 1206.0,431.6 1207.2,427.5 1207.8,426.1 1208.0,425.5 1208.2,425.1 1208.5,424.8 1208.8,424.6 1209.0,424.5 1209.5,424.7 1210.0,425.2 1210.5,426.1 1211.2,427.8 1213.2,433.3 1214.0,435.1 1214.8,436.5 1215.5,437.6 1216.5,438.5 1218.2,439.3 1230.5,439.3 1234.0,438.4 1239.5,434.8 1241.0,434.5 1242.5,434.8 1248.2,438.5 1260.5,439.5 1272.8,439.5 1280.8,439.1 1285.5,437.5 1294.5,439.4 1306.8,437.6 1311.0,437.0 1319.0,438.3 1319.5,438.3 1319.8,437.9 1320.0,437.5 1320.2,436.9 1320.5,436.1 1320.8,435.1 1321.0,433.9 1321.2,432.3 1321.5,430.4 1321.8,428.2 1322.0,425.7 1322.2,422.8 1322.5,419.7 1323.2,409.7 1323.5,406.6 1323.8,403.7 1324.0,401.4 1324.2,399.6 1324.5,398.5 1324.8,398.1 1325.0,398.5 1325.2,399.6 1325.5,401.3 1325.8,403.5 1326.0,406.1 1326.2,409.1 1326.8,415.1 1327.0,418.0 1327.2,420.6 1327.5,423.0 1327.8,424.9 1328.0,426.5 1328.2,427.7 1328.5,428.5 1328.8,428.9 1329.0,428.8 1329.2,428.4 1329.5,427.5 1329.8,426.1 1330.0,424.2 1330.2,421.7 1330.5,418.7 1330.8,415.0 1331.0,410.8 1331.2,406.0 1331.5,400.6 1331.8,394.6 1332.0,388.2 1332.2,381.4 1332.8,367.5 1333.0,360.8 1333.2,354.6 1333.5,349.1 1333.8,344.6 1334.0,341.2 1334.2,339.1 1334.5,338.4 1334.8,339.1 1335.0,341.2 1335.2,344.6 1335.5,349.1 1335.8,354.6 1336.0,360.8 1336.2,367.5 1336.8,381.4 1337.0,388.2 1337.2,394.6 1337.5,400.6 1337.8,406.0 1338.0,410.8 1338.2,414.9 1338.5,418.5 1338.8,421.4 1339.0,423.9 1339.2,425.8 1339.5,427.3 1339.8,428.5 1340.0,429.3 1340.2,429.8 1340.5,430.1 1340.8,430.1 1341.0,430.0 1341.5,429.5 1342.2,428.4 1342.5,428.2 1342.8,428.1 1343.0,428.1 1343.2,428.3 1343.5,428.6 1344.0,429.6 1344.8,431.3 1345.0,431.8 1345.2,432.1 1345.5,432.3 1345.8,432.3 1346.0,432.0 1346.2,431.6 1346.5,430.8 1346.8,429.8 1347.0,428.6 1347.2,427.0 1347.5,425.3 1347.8,423.3 1348.5,417.0 1348.8,415.1 1349.0,413.5 1349.2,412.2 1349.5,411.4 1349.8,411.0 1350.0,411.2 1350.2,411.8 1350.5,412.9 1350.8,414.5 1351.0,416.3 1352.0,424.6 1352.2,426.4 1352.5,428.1 1352.8,429.5 1353.0,430.7 1353.2,431.7 1353.5,432.4 1353.8,432.9 1354.0,433.3 1354.2,433.5 1354.5,433.6 1355.0,433.5 1357.2,431.3 1357.8,431.0 1358.2,431.0 1358.8,431.3 1361.2,433.9 1362.2,434.5 1363.0,434.6 1363.8,434.4 1364.2,434.0 1364.8,433.3 1366.2,430.5 1366.5,430.2 1366.8,430.0 1367.0,429.8 1367.2,429.9 1367.8,430.2 1368.8,431.2 1369.0,431.4 1369.2,431.4 1369.5,431.2 1369.8,430.9 1370.0,430.4 1370.2,429.6 1370.5,428.3 1370.8,426.5 1371.0,423.6 1371.2,419.2 1371.5,412.4 1371.8,402.3 1372.0,387.8 1372.2,367.9 1372.5,342.2 1372.8,311.1 1373.0,276.2 1373.2,240.0 1373.5,206.4 1373.8,179.4 1374.0,162.7 1374.2,158.7 1374.5,167.9 1374.8,189.1 1375.0,219.3 1375.2,254.4 1375.5,290.4 1375.8,324.1 1376.0,353.1 1376.2,376.5 1376.5,394.1 1376.8,406.7 1377.0,415.3 1377.2,421.0 1377.5,424.7 1377.8,427.0 1378.0,428.6 1378.2,429.6 1378.5,430.3 1378.8,430.8 1379.0,431.0 1379.2,431.2 1379.8,431.2 1381.5,430.0 1382.0,429.9 1382.5,430.1 1383.0,430.5 1384.8,432.8 1385.2,433.2 1385.8,433.3 1386.0,433.1 1386.2,432.9 1386.5,432.5 1386.8,431.9 1387.0,431.1 1387.2,430.2 1387.5,429.0 1387.8,427.7 1388.0,426.2 1389.0,419.4 1389.2,417.8 1389.5,416.4 1389.8,415.3 1390.0,414.5 1390.2,414.1 1390.5,414.0 1390.8,414.4 1391.0,415.1 1391.2,416.2 1391.5,417.5 1391.8,419.1 1392.8,425.9 1393.0,427.5 1393.2,428.8 1393.5,430.1 1393.8,431.1 1394.0,431.9 1394.2,432.6 1394.5,433.1 1394.8,433.5 1395.0,433.7 1395.5,433.9 1396.0,433.7 1396.5,433.3 1397.0,432.6 1398.8,429.2 1399.2,428.5 1399.8,428.1 1400.0,428.0 1400.2,428.1 1400.8,428.5 1401.2,429.2 1403.0,432.6 1403.8,433.6 1404.0,433.8 1404.2,434.0 1404.5,433.7 1404.8,433.3 1405.0,432.7 1405.2,431.7 1405.5,430.5 1405.8,428.9 1406.0,426.9 1406.2,424.5 1406.5,421.7 1406.8,418.4 1407.0,414.7 1407.2,410.7 1408.0,398.2 1408.2,394.3 1408.5,390.9 1408.8,388.2 1409.0,386.2 1409.2,385.2 1409.5,385.1 1409.8,385.9 1410.0,387.7 1410.2,390.3 1410.5,393.6 1410.8,397.3 1411.0,401.4 1411.5,409.8 1411.8,413.8 1412.0,417.6 1412.2,420.9 1412.5,423.8 1412.8,426.3 1413.0,428.4 1413.2,430.0 1413.5,431.3 1413.8,432.3 1414.0,433.0 1414.2,433.4 1414.5,433.8 1414.8,433.8 1415.8,433.0 1416.2,432.4 1416.8,431.6 1417.0,431.1 1417.2,430.4 1417.5,429.4 1417.8,428.2 1418.0,426.6 1418.2,424.6 1418.5,421.8 1418.8,418.3 1419.0,413.9 1419.2,408.3 1419.5,401.5 1419.8,393.4 1420.0,384.0 1420.2,373.4 1420.5,361.9 1420.8,349.6 1421.0,337.0 1421.2,324.7 1421.5,313.3 1421.8,303.3 1422.0,295.3 1422.2,289.7 1422.5,287.0 1422.8,287.3 1423.0,290.6 1423.2,296.7 1423.5,305.1 1423.8,315.4 1424.0,327.1 1424.2,339.5 1424.5,352.0 1424.8,364.2 1425.0,375.6 1425.2,386.0 1425.5,395.1 1425.8,402.9 1426.0,409.5 1426.2,414.8 1426.5,419.0 1426.8,422.4 1427.0,424.9 1427.2,426.9 1427.5,428.4 1427.8,429.5 1428.0,430.4 1428.2,431.0 1428.5,431.5 1429.0,432.3 1429.8,432.9 1430.5,433.1 1431.2,433.0 1432.0,432.5 1432.5,432.0 1432.8,431.6 1433.0,431.1 1433.2,430.4 1433.5,429.5 1433.8,428.3 1434.0,426.7 1434.2,424.5 1434.5,421.5 1434.8,417.6 1435.0,412.4 1435.2,405.9 1435.5,397.7 1435.8,387.9 1436.0,376.3 1436.2,363.3 1436.5,349.1 1437.0,319.4 1437.2,305.5 1437.5,293.2 1437.8,283.4 1438.0,276.8 1438.2,273.8 1438.5,274.6 1438.8,279.2 1439.0,287.1 1439.2,297.7 1439.5,310.2 1440.0,336.9 1440.2,349.4 1440.5,360.3 1440.8,368.9 1441.0,374.9 1441.2,377.9 1441.5,377.9 1441.8,374.9 1442.0,369.2 1442.2,361.1 1442.5,351.2 1442.8,340.0 1443.0,328.4 1443.2,317.2 1443.5,307.3 1443.8,299.3 1444.0,294.1 1444.2,291.9 1444.5,293.1 1444.8,297.5 1445.0,304.8 1445.2,314.4 1445.5,325.7 1446.0,349.8 1446.2,361.2 1446.5,371.2 1446.8,379.3 1447.0,385.4 1447.2,389.2 1447.5,390.8 1447.8,390.3 1448.0,388.2 1448.2,384.9 1448.5,380.8 1448.8,376.5 1449.0,372.7 1449.2,369.8 1449.5,368.2 1449.8,368.2 1450.0,369.8 1450.2,373.1 1450.5,377.6 1450.8,383.2 1451.0,389.5 1451.2,395.9 1451.5,402.2 1451.8,408.1 1452.0,413.3 1452.2,417.8 1452.5,421.5 1452.8,424.4 1453.0,426.6 1453.2,428.3 1453.5,429.5 1453.8,430.3 1454.0,430.9 1454.2,431.3 1454.5,431.5 1455.0,431.6 1455.5,431.5 1456.0,431.0 1456.2,430.7 1456.5,430.3 1456.8,429.7 1457.0,429.0 1457.2,428.1 1457.5,426.9 1457.8,425.5 1458.0,423.8 1458.2,421.8 1458.5,419.3 1458.8,416.5 1459.0,413.1 1459.2,409.2 1459.5,404.8 1459.8,399.8 1460.0,394.4 1460.2,388.4 1460.5,382.1 1460.8,375.5 1461.2,361.8 1461.5,355.0 1461.8,348.5 1462.0,342.5 1462.2,337.2 1462.5,332.6 1462.8,329.1 1463.0,326.6 1463.2,325.2 1463.5,325.1 1463.8,326.2 1464.0,328.5 1464.2,331.8 1464.5,336.2 1464.8,341.4 1465.0,347.3 1465.2,353.7 1465.5,360.4 1466.0,374.1 1466.2,380.8 1466.5,387.2 1466.8,393.2 1467.0,398.8 1467.2,403.8 1467.5,408.4 1467.8,412.4 1468.0,415.9 1468.2,418.9 1468.5,421.4 1468.8,423.5 1469.0,425.3 1469.2,426.8 1469.5,428.0 1469.8,429.0 1470.0,429.8 1470.2,430.5 1470.8,431.5 1471.2,432.2 1472.5,433.2 1476.0,434.1 1480.2,433.7 1481.8,433.0 1482.5,432.3 1483.0,431.5 1483.2,431.0 1483.5,430.3 1483.8,429.5 1484.0,428.5 1484.2,427.3 1484.5,425.9 1484.8,424.2 1485.0,422.2 1485.2,419.9 1485.5,417.3 1485.8,414.4 1486.0,411.2 1486.2,407.7 1486.5,404.0 1486.8,400.0 1487.5,388.0 1487.8,384.1 1488.0,380.6 1488.2,377.5 1488.5,374.8 1488.8,372.7 1489.0,371.3 1489.2,370.6 1489.5,370.6 1489.8,371.3 1490.0,372.8 1490.2,374.9 1490.5,377.6 1490.8,380.8 1491.0,384.4 1491.2,388.3 1492.0,400.8 1492.2,404.9 1492.5,408.8 1492.8,412.5 1493.0,415.9 1493.2,419.0 1493.5,421.7 1493.8,424.1 1494.0,426.2 1494.2,428.0 1494.5,429.5 1494.8,430.7 1495.0,431.6 1495.2,432.3 1495.5,432.8 1495.8,433.1 1496.0,433.2 1496.2,433.2 1496.8,433.0 1498.0,431.6 1498.5,431.3 1499.0,431.4 1499.2,431.5 1499.8,432.2 1500.2,433.2 1501.8,436.8 1502.2,437.8 1502.8,438.5 1503.5,439.3 1504.5,439.8 1516.8,440.3 1523.5,440.5" fill="none" stroke="#e61f26" stroke-width="3.1" stroke-linejoin="round" stroke-linecap="round"/>
<g stroke="#231815" stroke-width="2.8" fill="none" stroke-linecap="butt">
<path d="M899.7,70.4 V578.2 M894.4,576.9 H1573"/>
<path d="M888.6,540.9 H899.7 M893,504.8 H899.7 M888.6,468.7 H899.7 M893,432.5 H899.7 M888.6,396.4 H899.7 M893,360.3 H899.7 M888.6,324.2 H899.7 M893,288.1 H899.7 M888.6,251.9 H899.7 M893,215.8 H899.7 M888.6,179.7 H899.7 M893,143.6 H899.7 M888.6,107.5 H899.7 "/>
<path d="M960.7,577 V587.2 M1021.8,577 V582.7 M1082.9,577 V587.2 M1144.0,577 V582.7 M1205.1,577 V587.2 M1266.2,577 V582.7 M1327.3,577 V587.2 M1388.4,577 V582.7 M1449.5,577 V587.2 M1510.6,577 V582.7 "/>
</g>
<text x="875.6" y="548.3" font-size="24.5" text-anchor="end" stroke="#000">0</text>
<text x="875.6" y="476.2" font-size="24.5" text-anchor="end" stroke="#000">200</text>
<text x="875.6" y="404.1" font-size="24.5" text-anchor="end" stroke="#000">400</text>
<text x="875.6" y="332.0" font-size="24.5" text-anchor="end" stroke="#000">600</text>
<text x="875.6" y="259.9" font-size="24.5" text-anchor="end" stroke="#000">800</text>
<text x="875.6" y="187.8" font-size="24.5" text-anchor="end" stroke="#000">1000</text>
<text x="880.2" y="115.7" font-size="24.5" text-anchor="end" stroke="#000">1200</text>
<text x="824.5" y="85.0" font-size="25" textLength="51.3" lengthAdjust="spacingAndGlyphs" stroke="#000">mAu</text>
<text x="960.7" y="617.6" font-size="24.4" text-anchor="middle" stroke="#000">5</text>
<text x="1084.8" y="617.6" font-size="24.4" text-anchor="middle" stroke="#000">10</text>
<text x="1206.7" y="617.6" font-size="24.4" text-anchor="middle" stroke="#000">15</text>
<text x="1328.2" y="617.6" font-size="24.4" text-anchor="middle" stroke="#000">20</text>
<text x="1449.8" y="617.6" font-size="24.4" text-anchor="middle" stroke="#000">25</text>
<text x="1540.6" y="617.5" font-size="25" textLength="40.7" lengthAdjust="spacingAndGlyphs" stroke="#000">min</text>
<text x="920.8" y="90.8" font-size="18.5" textLength="177.5" lengthAdjust="spacingAndGlyphs" stroke="#000">Absorption at 340 nm</text>
<text x="1275.4" y="28.6" font-size="18.5" textLength="49.8" lengthAdjust="spacingAndGlyphs" stroke="#000">FDAA</text>
<text x="1005.4" y="169.0" font-size="18.5" textLength="29.4" lengthAdjust="spacingAndGlyphs" fill="#8e2a6b" stroke="#8e2a6b">GG</text>
<text x="1120.1" y="238.5" font-size="18.5" textLength="27.5" lengthAdjust="spacingAndGlyphs" stroke="#000">Gly</text>
<text x="1346.5" y="148.9" font-size="18.5" textLength="56.8" lengthAdjust="spacingAndGlyphs" fill="#9a6434" stroke="#9a6434">AeKaA</text>
<text x="1382" y="277" font-size="18.5" textLength="50.3" lengthAdjust="spacingAndGlyphs"><tspan fill="#f7951d" stroke="#f7951d">eK</tspan><tspan fill="#000" stroke="#000">/</tspan><tspan fill="#2f9ede" stroke="#2f9ede">Ka</tspan></text>
<text x="1449.2" y="312.8" font-size="18.5" textLength="45.8" lengthAdjust="spacingAndGlyphs" stroke="#000">L-Lys</text>
<text x="1037.3" y="365.0" font-size="18.5" textLength="26.4" lengthAdjust="spacingAndGlyphs" fill="#1b2559" stroke="#1b2559">AG</text>
<text x="1189.9" y="363.6" font-size="18.5" textLength="42.3" lengthAdjust="spacingAndGlyphs" stroke="#000">L-Ala</text>
<text x="1311.4" y="368.5" font-size="18.5" textLength="45.8" lengthAdjust="spacingAndGlyphs" stroke="#000">D-Ala</text>
<text x="1383.2" y="367.7" font-size="18.5" textLength="34.3" lengthAdjust="spacingAndGlyphs" fill="#0c9c4a" stroke="#0c9c4a">KaA</text>
<text x="1534.6" y="436.5" font-size="18.5" fill="#e61f26" stroke="#e61f26">PG+psn</text>
<text x="1534.6" y="452.0" font-size="18.5" stroke="#000">5aa</text>
<text x="1534.6" y="467.0" font-size="18.5" fill="#9a6434" stroke="#9a6434">AeKaA</text>
<text x="1534.6" y="482.0" font-size="18.5" fill="#0c9c4a" stroke="#0c9c4a">KaA</text>
<text x="1534.6" y="497.0" font-size="18.5" fill="#f7951d" stroke="#f7951d">eK</text>
<text x="1534.6" y="512.5" font-size="18.5" fill="#2f9ede" stroke="#2f9ede">Ka</text>
<text x="1534.6" y="527.5" font-size="18.5" fill="#1b2559" stroke="#1b2559">AG</text>
<text x="1534.6" y="542.5" font-size="18.5" fill="#8f2b8c" stroke="#8f2b8c">GG</text>
<text x="1534.6" y="555.0" font-size="18.5" fill="#d4d4d4" stroke="#d4d4d4">psn</text>
<text x="1534.6" y="573.0" font-size="18.5" fill="#a0a0a0" stroke="#a0a0a0">PG</text>
<text x="-0.7" y="696.0" font-size="43" font-weight="bold" style="stroke-width:0" textLength="23.0" lengthAdjust="spacingAndGlyphs" stroke="#000">c</text>
<g stroke="#231815" stroke-width="2.9" stroke-linejoin="miter">
<rect x="148.0" y="1061" width="53.6" height="132.8" fill="#9e9e9f"/>
<rect x="201.6" y="1183.2" width="52.1" height="10.6" fill="#e61f26"/>
<rect x="294.0" y="721.3" width="53.6" height="472.5" fill="#9e9e9f"/>
<rect x="347.6" y="1188.7" width="52.4" height="5.1" fill="#e61f26"/>
<rect x="439.8" y="851.6" width="53.6" height="342.2" fill="#9e9e9f"/>
<rect x="493.4" y="1183.9" width="52.6" height="9.9" fill="#e61f26"/>
<rect x="588.6" y="1061.7" width="53.9" height="132.1" fill="#9e9e9f"/>
<rect x="642.5" y="1174.6" width="52.1" height="19.2" fill="#e61f26"/>
<rect x="360.4" y="694" width="50.8" height="24.8" fill="#9e9e9f"/>
<rect x="360.4" y="725.6" width="50.8" height="25.7" fill="#e61f26"/>
</g>
<path d="M174.4,1054.2 V1068.5 M169.20000000000002,1054.2 H179.6 M169.20000000000002,1068.5 H179.6 M227.6,1176.4 V1190.2 M222.4,1176.4 H232.79999999999998 M222.4,1190.2 H232.79999999999998 M320.6,711 V732 M315.40000000000003,711 H325.8 M315.40000000000003,732 H325.8 M373,1185 V1192 M367.8,1185 H378.2 M367.8,1192 H378.2 M466.5,814.3 V890.7 M461.3,814.3 H471.7 M461.3,890.7 H471.7 M519.2,1180 V1187.5 M514.0,1180 H524.4000000000001 M514.0,1187.5 H524.4000000000001 M615.5,1045.8 V1078 M610.3,1045.8 H620.7 M610.3,1078 H620.7 M668.4,1167.3 V1182 M663.1999999999999,1167.3 H673.6 M663.1999999999999,1182 H673.6 " stroke="#231815" stroke-width="2.7" fill="none" stroke-linecap="round"/>
<path d="M112.6,688.9 V1193.8 M102,1193.8 H731.4 M107,1162.3 H112.6 M102,1130.8 H112.6 M107,1099.4 H112.6 M102,1067.9 H112.6 M107,1036.4 H112.6 M102,1004.9 H112.6 M107,973.5 H112.6 M102,942.0 H112.6 M107,910.5 H112.6 M102,879.0 H112.6 M107,847.6 H112.6 M102,816.1 H112.6 M107,784.6 H112.6 M102,753.1 H112.6 M107,721.7 H112.6 M102,690.2 H112.6 M200.9,1193.8 V1204 M347.3,1193.8 V1204 M493.2,1193.8 V1204 M642,1193.8 V1204 " stroke="#231815" stroke-width="2.9" fill="none"/>
<text x="89.0" y="1203.1" font-size="25" text-anchor="end" stroke="#000">0</text>
<text x="89.0" y="1140.1" font-size="25" text-anchor="end" stroke="#000">100</text>
<text x="89.0" y="1077.2" font-size="25" text-anchor="end" stroke="#000">200</text>
<text x="89.0" y="1014.2" font-size="25" text-anchor="end" stroke="#000">300</text>
<text x="89.0" y="951.3" font-size="25" text-anchor="end" stroke="#000">400</text>
<text x="89.0" y="888.3" font-size="25" text-anchor="end" stroke="#000">500</text>
<text x="89.0" y="825.4" font-size="25" text-anchor="end" stroke="#000">600</text>
<text x="89.0" y="762.4" font-size="25" text-anchor="end" stroke="#000">700</text>
<text x="89.0" y="699.5" font-size="25" text-anchor="end" stroke="#000">800</text>
<text x="423.5" y="715.5" font-size="25" textLength="330.5" lengthAdjust="spacingAndGlyphs" stroke="#000">PG treated with pseudoalterin</text>
<text x="423.2" y="747.0" font-size="25" stroke="#000">PG</text>
<text x="202.4" y="1237.0" font-size="25" text-anchor="middle" stroke="#000">Glu</text>
<text x="348.5" y="1233.6" font-size="25" text-anchor="middle" stroke="#000">Gly</text>
<text x="495.0" y="1236.0" font-size="25" text-anchor="middle" stroke="#000">Ala</text>
<text x="642.0" y="1236.0" font-size="25" text-anchor="middle" stroke="#000">Lys</text>
<text transform="translate(20.7,1121.5) rotate(-90)" stroke="#000" font-size="25" textLength="350.5" lengthAdjust="spacingAndGlyphs">Amino acids concentration (µM)</text>
<text x="824.3" y="695.5" font-size="41" font-weight="bold" style="stroke-width:0" stroke="#000">d</text>
<path d="M897.0,850.3 H910.8 M938.5,850.3 H951.9 M978.0,850.3 H992.0 M927.0,873.0 V886.9 M927.0,939.8 V953.7 M927.0,1012.6 V1026.4 M927.0,1089.2 V1103.0 M927.0,1160.5 V1174.4 M951.0,1061.5 H965.0 M1009.8,1061.5 H1024.2 M1077.0,1061.5 H1091.0 M1137.0,1061.5 H1151.0 M1197.3,1061.5 H1211.0 M1257.3,1061.5 H1271.2 M1317.8,1061.5 H1348.0 M1352.3,1061.5 H1365.7 M1369.5,1061.5 H1383.3 M1382.6,733.2 H1396.4 M1424.2,733.2 H1438.0 M1464.0,733.2 H1477.8 M1408.3,750.0 V764.0 M1408.3,816.8 V830.7 M1408.3,879.8 V894.0 M1408.3,955.6 V969.7 M1408.3,1025.0 V1039.0 M1436.3,919.2 H1450.0 M1494.7,919.2 H1509.3 " stroke="#231815" stroke-width="4.6" fill="none"/>
<text x="913.9" y="855.3" font-size="25" textLength="22.4" lengthAdjust="spacingAndGlyphs" stroke="#000">M</text>
<text x="955.5" y="855.3" font-size="25" textLength="19.6" lengthAdjust="spacingAndGlyphs" stroke="#000">G</text>
<text x="910.1" y="922.3" font-size="25" textLength="33.6" lengthAdjust="spacingAndGlyphs" stroke="#000">Ala</text>
<text x="880.9" y="993.7" font-size="25" textLength="65.9" lengthAdjust="spacingAndGlyphs" stroke="#000">D-Glu</text>
<text x="907.1" y="1065.7" font-size="25" textLength="38.9" lengthAdjust="spacingAndGlyphs" stroke="#000">Lys</text>
<text x="971.4" y="1065.7" font-size="25" textLength="33.9" lengthAdjust="spacingAndGlyphs" stroke="#000">Ala</text>
<text x="1035.6" y="1065.7" font-size="25" textLength="36.9" lengthAdjust="spacingAndGlyphs" stroke="#000">Gly</text>
<text x="1095.8" y="1065.7" font-size="25" textLength="36.9" lengthAdjust="spacingAndGlyphs" stroke="#000">Gly</text>
<text x="1155.8" y="1065.7" font-size="25" textLength="36.9" lengthAdjust="spacingAndGlyphs" stroke="#000">Gly</text>
<text x="1216.3" y="1065.7" font-size="25" textLength="36.9" lengthAdjust="spacingAndGlyphs" stroke="#000">Gly</text>
<text x="1276.0" y="1065.7" font-size="25" textLength="36.9" lengthAdjust="spacingAndGlyphs" stroke="#000">Gly</text>
<text x="1388.9" y="1065.7" font-size="25" textLength="33.7" lengthAdjust="spacingAndGlyphs" stroke="#000">Ala</text>
<text x="881.4" y="1139.8" font-size="25" textLength="62.0" lengthAdjust="spacingAndGlyphs" stroke="#000">D-Ala</text>
<text x="910.1" y="1204.3" font-size="25" textLength="33.7" lengthAdjust="spacingAndGlyphs" stroke="#000">Ala</text>
<text x="1398.2" y="739.2" font-size="25" textLength="22.0" lengthAdjust="spacingAndGlyphs" stroke="#000">M</text>
<text x="1441.2" y="739.2" font-size="25" textLength="20.3" lengthAdjust="spacingAndGlyphs" stroke="#000">G</text>
<text x="1391.9" y="799.5" font-size="25" textLength="33.5" lengthAdjust="spacingAndGlyphs" stroke="#000">Ala</text>
<text x="1359.5" y="862.5" font-size="25" textLength="66.0" lengthAdjust="spacingAndGlyphs" stroke="#000">D-Glu</text>
<text x="1393.5" y="924.2" font-size="25" textLength="38.3" lengthAdjust="spacingAndGlyphs" stroke="#000">Lys</text>
<text x="1455.3" y="924.2" font-size="25" textLength="33.9" lengthAdjust="spacingAndGlyphs" stroke="#000">Ala</text>
<text x="1515.0" y="924.2" font-size="25" textLength="54.8" lengthAdjust="spacingAndGlyphs" stroke="#000">(Gly)</text>
<text x="1569.4" y="931.0" font-size="17.5" textLength="10.4" lengthAdjust="spacingAndGlyphs" stroke="#000">5</text>
<text x="1365.0" y="1005.7" font-size="25" textLength="61.2" lengthAdjust="spacingAndGlyphs" stroke="#000">D-Ala</text>
<text x="1614.7" y="1057.0" font-size="22" stroke="#000">n</text>
<path d="M834.5,882.3 H872 M862.5,875.9 L873.6,882.3 L862.5,888.6999999999999" stroke="#000" stroke-width="3.9" fill="none" stroke-linecap="round" stroke-linejoin="round"/>
<path d="M834.5,952.2 H872 M862.5,945.8000000000001 L873.6,952.2 L862.5,958.6" stroke="#231815" stroke-width="3.9" fill="none" stroke-linecap="round" stroke-linejoin="round"/>
<path d="M834.5,1029 H872 M862.5,1022.6 L873.6,1029 L862.5,1035.4" stroke="#231815" stroke-width="3.9" fill="none" stroke-linecap="round" stroke-linejoin="round"/>
<path d="M834.5,1098.5 H872 M862.5,1092.1 L873.6,1098.5 L862.5,1104.9" stroke="#000" stroke-width="3.9" fill="none" stroke-linecap="round" stroke-linejoin="round"/>
<path d="M834.5,1175.8 H872 M862.5,1169.3999999999999 L873.6,1175.8 L862.5,1182.2" stroke="#e61f26" stroke-width="3.6" fill="none" stroke-linecap="round" stroke-linejoin="round"/>
<path d="M961.7,1134.3 V1096.5 M955.3000000000001,1106 L961.7,1094.9 L968.1,1106" stroke="#000" stroke-width="3.9" fill="none" stroke-linecap="round" stroke-linejoin="round"/>
<path d="M1014.4,1134.3 V1096.5 M1008.0,1106 L1014.4,1094.9 L1020.8,1106" stroke="#000" stroke-width="3.9" fill="none" stroke-linecap="round" stroke-linejoin="round"/>
<path d="M1087.2,1134.3 V1096.5 M1080.8,1106 L1087.2,1094.9 L1093.6000000000001,1106" stroke="#e61f26" stroke-width="3.5" fill="none" stroke-linecap="round" stroke-linejoin="round"/>
<path d="M1142.7,1134.3 V1096.5 M1136.3,1106 L1142.7,1094.9 L1149.1000000000001,1106" stroke="#e61f26" stroke-width="3.5" fill="none" stroke-linecap="round" stroke-linejoin="round"/>
<path d="M1203.9,1134.3 V1096.5 M1197.5,1106 L1203.9,1094.9 L1210.3000000000002,1106" stroke="#e61f26" stroke-width="3.5" fill="none" stroke-linecap="round" stroke-linejoin="round"/>
<path d="M1272.4,1134.3 V1096.5 M1266.0,1106 L1272.4,1094.9 L1278.8000000000002,1106" stroke="#000" stroke-width="3.9" fill="none" stroke-linecap="round" stroke-linejoin="round"/>
<g stroke="#000" fill="none" stroke-linejoin="round">
<path d="M1345.6,686.6 H1337.5 Q1333.3,686.6 1333.3,691.5 V1085.5 Q1333.3,1090.4 1337.5,1090.4 H1345.6" stroke-width="3.9"/>
<path d="M1336.8,687.3 H1345.6 M1336.8,1089.7 H1345.6" stroke-width="5.4"/>
<path d="M1588.6,686.6 H1597.2 Q1601.4,686.6 1601.4,691.5 V1085.5 Q1601.4,1090.4 1597.2,1090.4 H1588.6" stroke-width="3.9"/>
<path d="M1588.6,687.3 H1597.8 M1588.6,1089.7 H1597.8" stroke-width="5.4"/>
</g>
</svg>
</body>
</html>
